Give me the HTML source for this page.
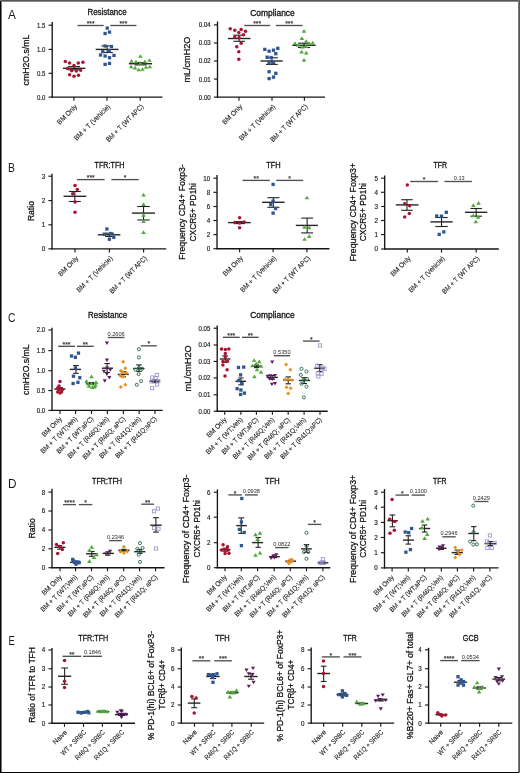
<!DOCTYPE html>
<html><head><meta charset="utf-8"><title>Figure</title>
<style>
html,body{margin:0;padding:0;background:#fff;width:520px;height:773px;overflow:hidden;}
svg{display:block;}
text{font-family:"Liberation Sans", sans-serif;}
</style></head><body>
<svg width="520" height="773" viewBox="0 0 520 773" font-family='"Liberation Sans", sans-serif' style="will-change:transform">
<rect x="0" y="0" width="520" height="773" fill="#ffffff"/>
<text x="8" y="19.2" font-size="12.8" text-anchor="start" fill="#1a1a1a" textLength="7.83" lengthAdjust="spacingAndGlyphs">A</text>
<text x="8" y="171.7" font-size="12.8" text-anchor="start" fill="#1a1a1a" textLength="6.94" lengthAdjust="spacingAndGlyphs">B</text>
<text x="8" y="321.7" font-size="12.8" text-anchor="start" fill="#1a1a1a" textLength="7.42" lengthAdjust="spacingAndGlyphs">C</text>
<text x="8" y="488.4" font-size="12.8" text-anchor="start" fill="#1a1a1a" textLength="8.52" lengthAdjust="spacingAndGlyphs">D</text>
<text x="8.6" y="645.3" font-size="12.8" text-anchor="start" fill="#1a1a1a" textLength="6.3" lengthAdjust="spacingAndGlyphs">E</text>
<line x1="52.2" y1="22" x2="52.2" y2="97.75" stroke="#151515" stroke-width="1.35"/>
<line x1="51.55" y1="97.1" x2="162.5" y2="97.1" stroke="#151515" stroke-width="1.35"/>
<line x1="48.6" y1="25.2" x2="52.2" y2="25.2" stroke="#1a1a1a" stroke-width="1.15"/>
<text x="45.4" y="27.6" font-size="6.6" text-anchor="end" fill="#1a1a1a" stroke="#1a1a1a" stroke-width="0.16" textLength="8.38" lengthAdjust="spacingAndGlyphs">1.5</text>
<line x1="48.6" y1="49.4" x2="52.2" y2="49.4" stroke="#1a1a1a" stroke-width="1.15"/>
<text x="45.4" y="51.8" font-size="6.6" text-anchor="end" fill="#1a1a1a" stroke="#1a1a1a" stroke-width="0.16" textLength="8.38" lengthAdjust="spacingAndGlyphs">1.0</text>
<line x1="48.6" y1="73.3" x2="52.2" y2="73.3" stroke="#1a1a1a" stroke-width="1.15"/>
<text x="45.4" y="75.7" font-size="6.6" text-anchor="end" fill="#1a1a1a" stroke="#1a1a1a" stroke-width="0.16" textLength="8.38" lengthAdjust="spacingAndGlyphs">0.5</text>
<line x1="48.6" y1="97.1" x2="52.2" y2="97.1" stroke="#1a1a1a" stroke-width="1.15"/>
<text x="45.4" y="99.5" font-size="6.6" text-anchor="end" fill="#1a1a1a" stroke="#1a1a1a" stroke-width="0.16" textLength="8.38" lengthAdjust="spacingAndGlyphs">0.0</text>
<line x1="73.9" y1="97.1" x2="73.9" y2="100.7" stroke="#1a1a1a" stroke-width="1.15"/>
<line x1="107" y1="97.1" x2="107" y2="100.7" stroke="#1a1a1a" stroke-width="1.15"/>
<line x1="140.2" y1="97.1" x2="140.2" y2="100.7" stroke="#1a1a1a" stroke-width="1.15"/>
<text x="107.05" y="15.3" font-size="8.63" text-anchor="middle" fill="#111" stroke="#111" stroke-width="0.3" textLength="39" lengthAdjust="spacingAndGlyphs">Resistance</text>
<text x="28.6" y="60" font-size="9.89" text-anchor="middle" fill="#111" stroke="#111" stroke-width="0.28" transform="rotate(-90 28.6 60)" textLength="50.8" lengthAdjust="spacingAndGlyphs">cmH2O.s/mL</text>
<text x="77.7" y="107.1" font-size="6.98" text-anchor="end" fill="#1a1a1a" stroke="#1a1a1a" stroke-width="0.1" transform="rotate(-45 77.7 107.1)" textLength="25.26" lengthAdjust="spacingAndGlyphs">BM Only</text>
<text x="110.8" y="107.1" font-size="6.98" text-anchor="end" fill="#1a1a1a" stroke="#1a1a1a" stroke-width="0.1" transform="rotate(-45 110.8 107.1)" textLength="48.07" lengthAdjust="spacingAndGlyphs">BM + T (Vehicle)</text>
<text x="144" y="107.1" font-size="6.98" text-anchor="end" fill="#1a1a1a" stroke="#1a1a1a" stroke-width="0.1" transform="rotate(-45 144 107.1)" textLength="49.84" lengthAdjust="spacingAndGlyphs">BM + T (WT APC)</text>
<line x1="77.5" y1="25.5" x2="103.7" y2="25.5" stroke="#505050" stroke-width="1.35"/>
<text x="90.6" y="26.1" font-size="6.8" text-anchor="middle" fill="#222" stroke="#222" stroke-width="0.1">***</text>
<line x1="110.3" y1="25.5" x2="136.4" y2="25.5" stroke="#505050" stroke-width="1.35"/>
<text x="123.35" y="26.1" font-size="6.8" text-anchor="middle" fill="#222" stroke="#222" stroke-width="0.1">***</text>
<line x1="74" y1="66.6" x2="74" y2="69.8" stroke="#222" stroke-width="1.1"/>
<line x1="68" y1="66.6" x2="80" y2="66.6" stroke="#222" stroke-width="1.1"/>
<line x1="68" y1="69.8" x2="80" y2="69.8" stroke="#222" stroke-width="1.1"/>
<line x1="62.8" y1="68.3" x2="85.4" y2="68.3" stroke="#262626" stroke-width="1.4"/>
<circle cx="65.3" cy="61.4" r="1.75" fill="#a8142f"/>
<circle cx="69.6" cy="63" r="1.75" fill="#a8142f"/>
<circle cx="74" cy="65.4" r="1.75" fill="#a8142f"/>
<circle cx="78.3" cy="62.9" r="1.75" fill="#a8142f"/>
<circle cx="82.9" cy="62.3" r="1.75" fill="#a8142f"/>
<circle cx="67.4" cy="68.5" r="1.75" fill="#a8142f"/>
<circle cx="71.7" cy="70.8" r="1.75" fill="#a8142f"/>
<circle cx="76.3" cy="71.1" r="1.75" fill="#a8142f"/>
<circle cx="80.6" cy="70.3" r="1.75" fill="#a8142f"/>
<circle cx="69.6" cy="74.8" r="1.75" fill="#a8142f"/>
<circle cx="74" cy="76.2" r="1.75" fill="#a8142f"/>
<circle cx="78.5" cy="75.2" r="1.75" fill="#a8142f"/>
<line x1="107.15" y1="45.9" x2="107.15" y2="52.5" stroke="#222" stroke-width="1.1"/>
<line x1="101.4" y1="45.9" x2="112.9" y2="45.9" stroke="#222" stroke-width="1.1"/>
<line x1="101.4" y1="52.5" x2="112.9" y2="52.5" stroke="#222" stroke-width="1.1"/>
<line x1="95.7" y1="49.4" x2="118.5" y2="49.4" stroke="#262626" stroke-width="1.4"/>
<rect x="105.55" y="26.45" width="3.3" height="3.3" fill="#2f5690"/>
<rect x="103.45" y="31.85" width="3.3" height="3.3" fill="#2f5690"/>
<rect x="107.85" y="30.45" width="3.3" height="3.3" fill="#2f5690"/>
<rect x="103.45" y="44.35" width="3.3" height="3.3" fill="#2f5690"/>
<rect x="109.85" y="44.85" width="3.3" height="3.3" fill="#2f5690"/>
<rect x="107.55" y="49.05" width="3.3" height="3.3" fill="#2f5690"/>
<rect x="101.15" y="49.95" width="3.3" height="3.3" fill="#2f5690"/>
<rect x="98.85" y="53.35" width="3.3" height="3.3" fill="#2f5690"/>
<rect x="103.45" y="54.35" width="3.3" height="3.3" fill="#2f5690"/>
<rect x="107.85" y="56.05" width="3.3" height="3.3" fill="#2f5690"/>
<rect x="112.35" y="53.75" width="3.3" height="3.3" fill="#2f5690"/>
<rect x="103.45" y="62.75" width="3.3" height="3.3" fill="#2f5690"/>
<rect x="107.85" y="61.75" width="3.3" height="3.3" fill="#2f5690"/>
<line x1="140.5" y1="62.6" x2="140.5" y2="64.9" stroke="#222" stroke-width="1.1"/>
<line x1="134.5" y1="62.6" x2="146.5" y2="62.6" stroke="#222" stroke-width="1.1"/>
<line x1="134.5" y1="64.9" x2="146.5" y2="64.9" stroke="#222" stroke-width="1.1"/>
<line x1="128.9" y1="63.7" x2="152" y2="63.7" stroke="#262626" stroke-width="1.4"/>
<path d="M140.4 54.15L142.7 57.84L138.1 57.84Z" fill="#52a83c"/>
<path d="M131.5 58.95L133.8 62.64L129.2 62.64Z" fill="#52a83c"/>
<path d="M136 59.65L138.3 63.34L133.7 63.34Z" fill="#52a83c"/>
<path d="M140.4 61.15L142.7 64.84L138.1 64.84Z" fill="#52a83c"/>
<path d="M144.8 59.45L147.1 63.14L142.5 63.14Z" fill="#52a83c"/>
<path d="M149.4 58.15L151.7 61.84L147.1 61.84Z" fill="#52a83c"/>
<path d="M131.1 64.65L133.4 68.34L128.8 68.34Z" fill="#52a83c"/>
<path d="M135 65.85L137.3 69.54L132.7 69.54Z" fill="#52a83c"/>
<path d="M138.7 67.65L141 71.34L136.4 71.34Z" fill="#52a83c"/>
<path d="M142.5 67.15L144.8 70.84L140.2 70.84Z" fill="#52a83c"/>
<path d="M146 65.15L148.3 68.84L143.7 68.84Z" fill="#52a83c"/>
<path d="M149.8 64.65L152.1 68.34L147.5 68.34Z" fill="#52a83c"/>
<line x1="217.5" y1="21.5" x2="217.5" y2="97.75" stroke="#151515" stroke-width="1.35"/>
<line x1="216.85" y1="97.1" x2="325" y2="97.1" stroke="#151515" stroke-width="1.35"/>
<line x1="213.9" y1="24.9" x2="217.5" y2="24.9" stroke="#1a1a1a" stroke-width="1.15"/>
<text x="210.7" y="27.3" font-size="6.6" text-anchor="end" fill="#1a1a1a" stroke="#1a1a1a" stroke-width="0.16" textLength="11.87" lengthAdjust="spacingAndGlyphs">0.04</text>
<line x1="213.9" y1="43" x2="217.5" y2="43" stroke="#1a1a1a" stroke-width="1.15"/>
<text x="210.7" y="45.4" font-size="6.6" text-anchor="end" fill="#1a1a1a" stroke="#1a1a1a" stroke-width="0.16" textLength="11.87" lengthAdjust="spacingAndGlyphs">0.03</text>
<line x1="213.9" y1="61" x2="217.5" y2="61" stroke="#1a1a1a" stroke-width="1.15"/>
<text x="210.7" y="63.4" font-size="6.6" text-anchor="end" fill="#1a1a1a" stroke="#1a1a1a" stroke-width="0.16" textLength="11.87" lengthAdjust="spacingAndGlyphs">0.02</text>
<line x1="213.9" y1="79.1" x2="217.5" y2="79.1" stroke="#1a1a1a" stroke-width="1.15"/>
<text x="210.7" y="81.5" font-size="6.6" text-anchor="end" fill="#1a1a1a" stroke="#1a1a1a" stroke-width="0.16" textLength="11.87" lengthAdjust="spacingAndGlyphs">0.01</text>
<line x1="213.9" y1="97.1" x2="217.5" y2="97.1" stroke="#1a1a1a" stroke-width="1.15"/>
<text x="210.7" y="99.5" font-size="6.6" text-anchor="end" fill="#1a1a1a" stroke="#1a1a1a" stroke-width="0.16" textLength="11.87" lengthAdjust="spacingAndGlyphs">0.00</text>
<line x1="239" y1="97.1" x2="239" y2="100.7" stroke="#1a1a1a" stroke-width="1.15"/>
<line x1="272" y1="97.1" x2="272" y2="100.7" stroke="#1a1a1a" stroke-width="1.15"/>
<line x1="304.4" y1="97.1" x2="304.4" y2="100.7" stroke="#1a1a1a" stroke-width="1.15"/>
<text x="272.5" y="15.5" font-size="8.63" text-anchor="middle" fill="#111" stroke="#111" stroke-width="0.3" textLength="44.39" lengthAdjust="spacingAndGlyphs">Compliance</text>
<text x="190.1" y="59.6" font-size="9.89" text-anchor="middle" fill="#111" stroke="#111" stroke-width="0.28" transform="rotate(-90 190.1 59.6)" textLength="46" lengthAdjust="spacingAndGlyphs">mL/cmH2O</text>
<text x="242.8" y="107.1" font-size="6.98" text-anchor="end" fill="#1a1a1a" stroke="#1a1a1a" stroke-width="0.1" transform="rotate(-45 242.8 107.1)" textLength="25.26" lengthAdjust="spacingAndGlyphs">BM Only</text>
<text x="275.8" y="107.1" font-size="6.98" text-anchor="end" fill="#1a1a1a" stroke="#1a1a1a" stroke-width="0.1" transform="rotate(-45 275.8 107.1)" textLength="48.07" lengthAdjust="spacingAndGlyphs">BM + T (Vehicle)</text>
<text x="308.2" y="107.1" font-size="6.98" text-anchor="end" fill="#1a1a1a" stroke="#1a1a1a" stroke-width="0.1" transform="rotate(-45 308.2 107.1)" textLength="49.84" lengthAdjust="spacingAndGlyphs">BM + T (WT APC)</text>
<line x1="244.2" y1="25.5" x2="270.2" y2="25.5" stroke="#505050" stroke-width="1.35"/>
<text x="257.2" y="26.1" font-size="6.8" text-anchor="middle" fill="#222" stroke="#222" stroke-width="0.1">***</text>
<line x1="275.8" y1="25.5" x2="302.6" y2="25.5" stroke="#505050" stroke-width="1.35"/>
<text x="289.2" y="26.1" font-size="6.8" text-anchor="middle" fill="#222" stroke="#222" stroke-width="0.1">***</text>
<line x1="239.05" y1="35.2" x2="239.05" y2="41.3" stroke="#222" stroke-width="1.1"/>
<line x1="233.3" y1="35.2" x2="244.8" y2="35.2" stroke="#222" stroke-width="1.1"/>
<line x1="233.3" y1="41.3" x2="244.8" y2="41.3" stroke="#222" stroke-width="1.1"/>
<line x1="227.9" y1="38.5" x2="250.4" y2="38.5" stroke="#262626" stroke-width="1.4"/>
<circle cx="230.2" cy="28.7" r="1.75" fill="#a8142f"/>
<circle cx="234.8" cy="30.2" r="1.75" fill="#a8142f"/>
<circle cx="241.2" cy="29.5" r="1.75" fill="#a8142f"/>
<circle cx="245.5" cy="31.2" r="1.75" fill="#a8142f"/>
<circle cx="238.8" cy="32.5" r="1.75" fill="#a8142f"/>
<circle cx="243.5" cy="34.7" r="1.75" fill="#a8142f"/>
<circle cx="234.8" cy="37.1" r="1.75" fill="#a8142f"/>
<circle cx="239.1" cy="37.7" r="1.75" fill="#a8142f"/>
<circle cx="241.2" cy="43.3" r="1.75" fill="#a8142f"/>
<circle cx="236.8" cy="46.8" r="1.75" fill="#a8142f"/>
<circle cx="238.8" cy="51.7" r="1.75" fill="#a8142f"/>
<circle cx="238.8" cy="59.2" r="1.75" fill="#a8142f"/>
<line x1="271.9" y1="57.8" x2="271.9" y2="64.4" stroke="#222" stroke-width="1.1"/>
<line x1="266" y1="57.8" x2="277.8" y2="57.8" stroke="#222" stroke-width="1.1"/>
<line x1="266" y1="64.4" x2="277.8" y2="64.4" stroke="#222" stroke-width="1.1"/>
<line x1="260.5" y1="61" x2="282.7" y2="61" stroke="#262626" stroke-width="1.4"/>
<rect x="263.15" y="47.75" width="3.3" height="3.3" fill="#2f5690"/>
<rect x="267.45" y="49.55" width="3.3" height="3.3" fill="#2f5690"/>
<rect x="271.85" y="48.55" width="3.3" height="3.3" fill="#2f5690"/>
<rect x="276.15" y="46.65" width="3.3" height="3.3" fill="#2f5690"/>
<rect x="274.15" y="52.05" width="3.3" height="3.3" fill="#2f5690"/>
<rect x="265.45" y="55.55" width="3.3" height="3.3" fill="#2f5690"/>
<rect x="269.55" y="55.85" width="3.3" height="3.3" fill="#2f5690"/>
<rect x="267.45" y="61.05" width="3.3" height="3.3" fill="#2f5690"/>
<rect x="271.85" y="61.05" width="3.3" height="3.3" fill="#2f5690"/>
<rect x="267.45" y="70.05" width="3.3" height="3.3" fill="#2f5690"/>
<rect x="274.15" y="71.65" width="3.3" height="3.3" fill="#2f5690"/>
<rect x="271.85" y="75.45" width="3.3" height="3.3" fill="#2f5690"/>
<rect x="267.45" y="76.95" width="3.3" height="3.3" fill="#2f5690"/>
<line x1="304.05" y1="43.2" x2="304.05" y2="47.5" stroke="#222" stroke-width="1.1"/>
<line x1="298" y1="43.2" x2="310.1" y2="43.2" stroke="#222" stroke-width="1.1"/>
<line x1="298" y1="47.5" x2="310.1" y2="47.5" stroke="#222" stroke-width="1.1"/>
<line x1="292.4" y1="45.3" x2="315.7" y2="45.3" stroke="#262626" stroke-width="1.4"/>
<path d="M304 29.05L306.3 32.74L301.7 32.74Z" fill="#52a83c"/>
<path d="M301.9 36.25L304.2 39.94L299.6 39.94Z" fill="#52a83c"/>
<path d="M306.2 39.15L308.5 42.84L303.9 42.84Z" fill="#52a83c"/>
<path d="M295 41.35L297.3 45.04L292.7 45.04Z" fill="#52a83c"/>
<path d="M298.4 43.05L300.7 46.74L296.1 46.74Z" fill="#52a83c"/>
<path d="M309.2 41.45L311.5 45.14L306.9 45.14Z" fill="#52a83c"/>
<path d="M312.7 40.85L315 44.54L310.4 44.54Z" fill="#52a83c"/>
<path d="M302.3 44.75L304.6 48.44L300 48.44Z" fill="#52a83c"/>
<path d="M305.8 44.35L308.1 48.04L303.5 48.04Z" fill="#52a83c"/>
<path d="M301.6 49.75L303.9 53.44L299.3 53.44Z" fill="#52a83c"/>
<path d="M306.2 50.85L308.5 54.54L303.9 54.54Z" fill="#52a83c"/>
<path d="M304 57.95L306.3 61.64L301.7 61.64Z" fill="#52a83c"/>
<line x1="52" y1="173.7" x2="52" y2="249.45" stroke="#151515" stroke-width="1.35"/>
<line x1="51.35" y1="248.8" x2="166.2" y2="248.8" stroke="#151515" stroke-width="1.35"/>
<line x1="48.4" y1="176.2" x2="52" y2="176.2" stroke="#1a1a1a" stroke-width="1.15"/>
<text x="45.2" y="178.6" font-size="6.6" text-anchor="end" fill="#1a1a1a" stroke="#1a1a1a" stroke-width="0.16" textLength="3.49" lengthAdjust="spacingAndGlyphs">3</text>
<line x1="48.4" y1="200.6" x2="52" y2="200.6" stroke="#1a1a1a" stroke-width="1.15"/>
<text x="45.2" y="203" font-size="6.6" text-anchor="end" fill="#1a1a1a" stroke="#1a1a1a" stroke-width="0.16" textLength="3.49" lengthAdjust="spacingAndGlyphs">2</text>
<line x1="48.4" y1="224.8" x2="52" y2="224.8" stroke="#1a1a1a" stroke-width="1.15"/>
<text x="45.2" y="227.2" font-size="6.6" text-anchor="end" fill="#1a1a1a" stroke="#1a1a1a" stroke-width="0.16" textLength="3.49" lengthAdjust="spacingAndGlyphs">1</text>
<line x1="48.4" y1="248.8" x2="52" y2="248.8" stroke="#1a1a1a" stroke-width="1.15"/>
<text x="45.2" y="251.2" font-size="6.6" text-anchor="end" fill="#1a1a1a" stroke="#1a1a1a" stroke-width="0.16" textLength="3.49" lengthAdjust="spacingAndGlyphs">0</text>
<line x1="75" y1="248.8" x2="75" y2="252.4" stroke="#1a1a1a" stroke-width="1.15"/>
<line x1="109.4" y1="248.8" x2="109.4" y2="252.4" stroke="#1a1a1a" stroke-width="1.15"/>
<line x1="143.6" y1="248.8" x2="143.6" y2="252.4" stroke="#1a1a1a" stroke-width="1.15"/>
<text x="109.5" y="167.8" font-size="8.63" text-anchor="middle" fill="#111" stroke="#111" stroke-width="0.3" textLength="29.95" lengthAdjust="spacingAndGlyphs">TFR:TFH</text>
<text x="34.5" y="211.1" font-size="9.89" text-anchor="middle" fill="#111" stroke="#111" stroke-width="0.28" transform="rotate(-90 34.5 211.1)" textLength="20" lengthAdjust="spacingAndGlyphs">Ratio</text>
<text x="78.8" y="258.8" font-size="6.98" text-anchor="end" fill="#1a1a1a" stroke="#1a1a1a" stroke-width="0.1" transform="rotate(-45 78.8 258.8)" textLength="25.26" lengthAdjust="spacingAndGlyphs">BM Only</text>
<text x="113.2" y="258.8" font-size="6.98" text-anchor="end" fill="#1a1a1a" stroke="#1a1a1a" stroke-width="0.1" transform="rotate(-45 113.2 258.8)" textLength="48.07" lengthAdjust="spacingAndGlyphs">BM + T (Vehicle)</text>
<text x="147.4" y="258.8" font-size="6.98" text-anchor="end" fill="#1a1a1a" stroke="#1a1a1a" stroke-width="0.1" transform="rotate(-45 147.4 258.8)" textLength="49.84" lengthAdjust="spacingAndGlyphs">BM + T (WT APC)</text>
<line x1="77" y1="179.6" x2="104.6" y2="179.6" stroke="#505050" stroke-width="1.35"/>
<text x="90.8" y="180.2" font-size="6.8" text-anchor="middle" fill="#222" stroke="#222" stroke-width="0.1">***</text>
<line x1="111.3" y1="179.6" x2="138.7" y2="179.6" stroke="#505050" stroke-width="1.35"/>
<text x="125" y="180.2" font-size="6.8" text-anchor="middle" fill="#222" stroke="#222" stroke-width="0.1">*</text>
<line x1="74.8" y1="191.5" x2="74.8" y2="201.5" stroke="#222" stroke-width="1.1"/>
<line x1="68.8" y1="191.5" x2="80.8" y2="191.5" stroke="#222" stroke-width="1.1"/>
<line x1="68.8" y1="201.5" x2="80.8" y2="201.5" stroke="#222" stroke-width="1.1"/>
<line x1="63.5" y1="196.3" x2="86.2" y2="196.3" stroke="#262626" stroke-width="1.4"/>
<circle cx="75" cy="185.4" r="1.75" fill="#a8142f"/>
<circle cx="77.3" cy="189.6" r="1.75" fill="#a8142f"/>
<circle cx="72.7" cy="193.8" r="1.75" fill="#a8142f"/>
<circle cx="75" cy="202.1" r="1.75" fill="#a8142f"/>
<circle cx="75" cy="212.3" r="1.75" fill="#a8142f"/>
<line x1="109.5" y1="233.2" x2="109.5" y2="236.4" stroke="#222" stroke-width="1.1"/>
<line x1="105" y1="233.2" x2="114" y2="233.2" stroke="#222" stroke-width="1.1"/>
<line x1="105" y1="236.4" x2="114" y2="236.4" stroke="#222" stroke-width="1.1"/>
<line x1="97.9" y1="234.8" x2="120.4" y2="234.8" stroke="#262626" stroke-width="1.4"/>
<rect x="105.25" y="227.35" width="3.3" height="3.3" fill="#2f5690"/>
<rect x="102.55" y="232.55" width="3.3" height="3.3" fill="#2f5690"/>
<rect x="109.15" y="231.85" width="3.3" height="3.3" fill="#2f5690"/>
<rect x="112.15" y="235.65" width="3.3" height="3.3" fill="#2f5690"/>
<rect x="107.75" y="237.55" width="3.3" height="3.3" fill="#2f5690"/>
<line x1="143.55" y1="206.5" x2="143.55" y2="220" stroke="#222" stroke-width="1.1"/>
<line x1="137.3" y1="206.5" x2="149.8" y2="206.5" stroke="#222" stroke-width="1.1"/>
<line x1="137.3" y1="220" x2="149.8" y2="220" stroke="#222" stroke-width="1.1"/>
<line x1="131.9" y1="213.1" x2="155" y2="213.1" stroke="#262626" stroke-width="1.4"/>
<path d="M143.5 192.75L145.8 196.44L141.2 196.44Z" fill="#52a83c"/>
<path d="M143.5 202.35L145.8 206.04L141.2 206.04Z" fill="#52a83c"/>
<path d="M143.5 212.95L145.8 216.64L141.2 216.64Z" fill="#52a83c"/>
<path d="M143.5 219.25L145.8 222.94L141.2 222.94Z" fill="#52a83c"/>
<path d="M143.5 230.25L145.8 233.94L141.2 233.94Z" fill="#52a83c"/>
<line x1="217" y1="175.1" x2="217" y2="249.35" stroke="#151515" stroke-width="1.35"/>
<line x1="216.35" y1="248.7" x2="329.4" y2="248.7" stroke="#151515" stroke-width="1.35"/>
<line x1="213.4" y1="178.2" x2="217" y2="178.2" stroke="#1a1a1a" stroke-width="1.15"/>
<text x="210.2" y="180.6" font-size="6.6" text-anchor="end" fill="#1a1a1a" stroke="#1a1a1a" stroke-width="0.16" textLength="6.98" lengthAdjust="spacingAndGlyphs">10</text>
<line x1="213.4" y1="192.3" x2="217" y2="192.3" stroke="#1a1a1a" stroke-width="1.15"/>
<text x="210.2" y="194.7" font-size="6.6" text-anchor="end" fill="#1a1a1a" stroke="#1a1a1a" stroke-width="0.16" textLength="3.49" lengthAdjust="spacingAndGlyphs">8</text>
<line x1="213.4" y1="206.5" x2="217" y2="206.5" stroke="#1a1a1a" stroke-width="1.15"/>
<text x="210.2" y="208.9" font-size="6.6" text-anchor="end" fill="#1a1a1a" stroke="#1a1a1a" stroke-width="0.16" textLength="3.49" lengthAdjust="spacingAndGlyphs">6</text>
<line x1="213.4" y1="220.5" x2="217" y2="220.5" stroke="#1a1a1a" stroke-width="1.15"/>
<text x="210.2" y="222.9" font-size="6.6" text-anchor="end" fill="#1a1a1a" stroke="#1a1a1a" stroke-width="0.16" textLength="3.49" lengthAdjust="spacingAndGlyphs">4</text>
<line x1="213.4" y1="234.6" x2="217" y2="234.6" stroke="#1a1a1a" stroke-width="1.15"/>
<text x="210.2" y="237" font-size="6.6" text-anchor="end" fill="#1a1a1a" stroke="#1a1a1a" stroke-width="0.16" textLength="3.49" lengthAdjust="spacingAndGlyphs">2</text>
<line x1="213.4" y1="248.7" x2="217" y2="248.7" stroke="#1a1a1a" stroke-width="1.15"/>
<text x="210.2" y="251.1" font-size="6.6" text-anchor="end" fill="#1a1a1a" stroke="#1a1a1a" stroke-width="0.16" textLength="3.49" lengthAdjust="spacingAndGlyphs">0</text>
<line x1="239.6" y1="248.7" x2="239.6" y2="252.3" stroke="#1a1a1a" stroke-width="1.15"/>
<line x1="273.1" y1="248.7" x2="273.1" y2="252.3" stroke="#1a1a1a" stroke-width="1.15"/>
<line x1="306.9" y1="248.7" x2="306.9" y2="252.3" stroke="#1a1a1a" stroke-width="1.15"/>
<text x="273.5" y="167.8" font-size="8.63" text-anchor="middle" fill="#111" stroke="#111" stroke-width="0.3" textLength="14.56" lengthAdjust="spacingAndGlyphs">TFH</text>
<text x="185.1" y="212" font-size="9.89" text-anchor="middle" fill="#111" stroke="#111" stroke-width="0.28" transform="rotate(-90 185.1 212)" textLength="95.5" lengthAdjust="spacingAndGlyphs">Frequency CD4+ Foxp3-</text>
<text x="196" y="212.3" font-size="9.89" text-anchor="middle" fill="#111" stroke="#111" stroke-width="0.28" transform="rotate(-90 196 212.3)" textLength="58.2" lengthAdjust="spacingAndGlyphs">CXCR5+ PD1hi</text>
<text x="243.4" y="258.7" font-size="6.98" text-anchor="end" fill="#1a1a1a" stroke="#1a1a1a" stroke-width="0.1" transform="rotate(-45 243.4 258.7)" textLength="25.26" lengthAdjust="spacingAndGlyphs">BM Only</text>
<text x="276.9" y="258.7" font-size="6.98" text-anchor="end" fill="#1a1a1a" stroke="#1a1a1a" stroke-width="0.1" transform="rotate(-45 276.9 258.7)" textLength="48.07" lengthAdjust="spacingAndGlyphs">BM + T (Vehicle)</text>
<text x="310.7" y="258.7" font-size="6.98" text-anchor="end" fill="#1a1a1a" stroke="#1a1a1a" stroke-width="0.1" transform="rotate(-45 310.7 258.7)" textLength="49.84" lengthAdjust="spacingAndGlyphs">BM + T (WT APC)</text>
<line x1="242.5" y1="180.4" x2="269.8" y2="180.4" stroke="#505050" stroke-width="1.35"/>
<text x="256.15" y="181" font-size="6.8" text-anchor="middle" fill="#222" stroke="#222" stroke-width="0.1">**</text>
<line x1="276.2" y1="180.4" x2="303.1" y2="180.4" stroke="#505050" stroke-width="1.35"/>
<text x="289.65" y="181" font-size="6.8" text-anchor="middle" fill="#222" stroke="#222" stroke-width="0.1">*</text>
<line x1="239.5" y1="221.6" x2="239.5" y2="223.6" stroke="#222" stroke-width="1.1"/>
<line x1="234" y1="221.6" x2="245" y2="221.6" stroke="#222" stroke-width="1.1"/>
<line x1="234" y1="223.6" x2="245" y2="223.6" stroke="#222" stroke-width="1.1"/>
<line x1="228.1" y1="222.6" x2="250.7" y2="222.6" stroke="#262626" stroke-width="1.4"/>
<circle cx="239.6" cy="217.7" r="1.75" fill="#a8142f"/>
<circle cx="234.7" cy="222.6" r="1.75" fill="#a8142f"/>
<circle cx="239.6" cy="223.1" r="1.75" fill="#a8142f"/>
<circle cx="244.2" cy="222" r="1.75" fill="#a8142f"/>
<circle cx="239.6" cy="227.7" r="1.75" fill="#a8142f"/>
<line x1="273.35" y1="197.7" x2="273.35" y2="207.3" stroke="#222" stroke-width="1.1"/>
<line x1="267.3" y1="197.7" x2="279.4" y2="197.7" stroke="#222" stroke-width="1.1"/>
<line x1="267.3" y1="207.3" x2="279.4" y2="207.3" stroke="#222" stroke-width="1.1"/>
<line x1="262.1" y1="202.3" x2="284.6" y2="202.3" stroke="#262626" stroke-width="1.4"/>
<rect x="271.45" y="182.75" width="3.3" height="3.3" fill="#2f5690"/>
<rect x="271.45" y="199.55" width="3.3" height="3.3" fill="#2f5690"/>
<rect x="269.15" y="202.95" width="3.3" height="3.3" fill="#2f5690"/>
<rect x="273.95" y="206.85" width="3.3" height="3.3" fill="#2f5690"/>
<rect x="271.45" y="211.45" width="3.3" height="3.3" fill="#2f5690"/>
<line x1="307.15" y1="218.1" x2="307.15" y2="232.9" stroke="#222" stroke-width="1.1"/>
<line x1="301.2" y1="218.1" x2="313.1" y2="218.1" stroke="#222" stroke-width="1.1"/>
<line x1="301.2" y1="232.9" x2="313.1" y2="232.9" stroke="#222" stroke-width="1.1"/>
<line x1="295.8" y1="225.4" x2="317.9" y2="225.4" stroke="#262626" stroke-width="1.4"/>
<path d="M306.9 195.65L309.2 199.34L304.6 199.34Z" fill="#52a83c"/>
<path d="M304.4 225.05L306.7 228.74L302.1 228.74Z" fill="#52a83c"/>
<path d="M309.2 225.65L311.5 229.34L306.9 229.34Z" fill="#52a83c"/>
<path d="M309.2 234.25L311.5 237.94L306.9 237.94Z" fill="#52a83c"/>
<path d="M304.6 237.15L306.9 240.84L302.3 240.84Z" fill="#52a83c"/>
<line x1="384.7" y1="175.4" x2="384.7" y2="249.65" stroke="#151515" stroke-width="1.35"/>
<line x1="384.05" y1="249" x2="498.8" y2="249" stroke="#151515" stroke-width="1.35"/>
<line x1="381.1" y1="178.2" x2="384.7" y2="178.2" stroke="#1a1a1a" stroke-width="1.15"/>
<text x="377.9" y="180.6" font-size="6.6" text-anchor="end" fill="#1a1a1a" stroke="#1a1a1a" stroke-width="0.16" textLength="3.49" lengthAdjust="spacingAndGlyphs">5</text>
<line x1="381.1" y1="192.3" x2="384.7" y2="192.3" stroke="#1a1a1a" stroke-width="1.15"/>
<text x="377.9" y="194.7" font-size="6.6" text-anchor="end" fill="#1a1a1a" stroke="#1a1a1a" stroke-width="0.16" textLength="3.49" lengthAdjust="spacingAndGlyphs">4</text>
<line x1="381.1" y1="206.5" x2="384.7" y2="206.5" stroke="#1a1a1a" stroke-width="1.15"/>
<text x="377.9" y="208.9" font-size="6.6" text-anchor="end" fill="#1a1a1a" stroke="#1a1a1a" stroke-width="0.16" textLength="3.49" lengthAdjust="spacingAndGlyphs">3</text>
<line x1="381.1" y1="220.5" x2="384.7" y2="220.5" stroke="#1a1a1a" stroke-width="1.15"/>
<text x="377.9" y="222.9" font-size="6.6" text-anchor="end" fill="#1a1a1a" stroke="#1a1a1a" stroke-width="0.16" textLength="3.49" lengthAdjust="spacingAndGlyphs">2</text>
<line x1="381.1" y1="234.6" x2="384.7" y2="234.6" stroke="#1a1a1a" stroke-width="1.15"/>
<text x="377.9" y="237" font-size="6.6" text-anchor="end" fill="#1a1a1a" stroke="#1a1a1a" stroke-width="0.16" textLength="3.49" lengthAdjust="spacingAndGlyphs">1</text>
<line x1="381.1" y1="249" x2="384.7" y2="249" stroke="#1a1a1a" stroke-width="1.15"/>
<text x="377.9" y="251.4" font-size="6.6" text-anchor="end" fill="#1a1a1a" stroke="#1a1a1a" stroke-width="0.16" textLength="3.49" lengthAdjust="spacingAndGlyphs">0</text>
<line x1="407.3" y1="249" x2="407.3" y2="252.6" stroke="#1a1a1a" stroke-width="1.15"/>
<line x1="441.5" y1="249" x2="441.5" y2="252.6" stroke="#1a1a1a" stroke-width="1.15"/>
<line x1="476.2" y1="249" x2="476.2" y2="252.6" stroke="#1a1a1a" stroke-width="1.15"/>
<text x="440.3" y="167.8" font-size="8.63" text-anchor="middle" fill="#111" stroke="#111" stroke-width="0.3" textLength="13.55" lengthAdjust="spacingAndGlyphs">TFR</text>
<text x="355.7" y="212.2" font-size="9.89" text-anchor="middle" fill="#111" stroke="#111" stroke-width="0.28" transform="rotate(-90 355.7 212.2)" textLength="98.6" lengthAdjust="spacingAndGlyphs">Frequency CD4+ Foxp3+</text>
<text x="366.4" y="212.2" font-size="9.89" text-anchor="middle" fill="#111" stroke="#111" stroke-width="0.28" transform="rotate(-90 366.4 212.2)" textLength="58.2" lengthAdjust="spacingAndGlyphs">CXCR5+ PD1hi</text>
<text x="411.1" y="259" font-size="6.98" text-anchor="end" fill="#1a1a1a" stroke="#1a1a1a" stroke-width="0.1" transform="rotate(-45 411.1 259)" textLength="25.26" lengthAdjust="spacingAndGlyphs">BM Only</text>
<text x="445.3" y="259" font-size="6.98" text-anchor="end" fill="#1a1a1a" stroke="#1a1a1a" stroke-width="0.1" transform="rotate(-45 445.3 259)" textLength="48.07" lengthAdjust="spacingAndGlyphs">BM + T (Vehicle)</text>
<text x="480" y="259" font-size="6.98" text-anchor="end" fill="#1a1a1a" stroke="#1a1a1a" stroke-width="0.1" transform="rotate(-45 480 259)" textLength="49.84" lengthAdjust="spacingAndGlyphs">BM + T (WT APC)</text>
<line x1="410.2" y1="181.5" x2="438.1" y2="181.5" stroke="#505050" stroke-width="1.35"/>
<text x="424.15" y="182.1" font-size="6.8" text-anchor="middle" fill="#222" stroke="#222" stroke-width="0.1">*</text>
<line x1="444.4" y1="181.5" x2="471.9" y2="181.5" stroke="#505050" stroke-width="1.35"/>
<text x="459.2" y="179.5" font-size="6.01" text-anchor="middle" fill="#2a2a2a" textLength="10.83" lengthAdjust="spacingAndGlyphs">0.13</text>
<line x1="406.95" y1="199.7" x2="406.95" y2="210.3" stroke="#222" stroke-width="1.1"/>
<line x1="401.2" y1="199.7" x2="412.7" y2="199.7" stroke="#222" stroke-width="1.1"/>
<line x1="401.2" y1="210.3" x2="412.7" y2="210.3" stroke="#222" stroke-width="1.1"/>
<line x1="395.8" y1="204.9" x2="418.5" y2="204.9" stroke="#262626" stroke-width="1.4"/>
<circle cx="407.3" cy="185.1" r="1.75" fill="#a8142f"/>
<circle cx="404.7" cy="203.8" r="1.75" fill="#a8142f"/>
<circle cx="409.6" cy="205.8" r="1.75" fill="#a8142f"/>
<circle cx="409.3" cy="213.5" r="1.75" fill="#a8142f"/>
<circle cx="404.7" cy="216.9" r="1.75" fill="#a8142f"/>
<line x1="441.55" y1="217.5" x2="441.55" y2="226.5" stroke="#222" stroke-width="1.1"/>
<line x1="435.4" y1="217.5" x2="447.7" y2="217.5" stroke="#222" stroke-width="1.1"/>
<line x1="435.4" y1="226.5" x2="447.7" y2="226.5" stroke="#222" stroke-width="1.1"/>
<line x1="430.4" y1="221.9" x2="452.7" y2="221.9" stroke="#262626" stroke-width="1.4"/>
<rect x="444.65" y="210.65" width="3.3" height="3.3" fill="#2f5690"/>
<rect x="435.05" y="214.35" width="3.3" height="3.3" fill="#2f5690"/>
<rect x="439.85" y="214.55" width="3.3" height="3.3" fill="#2f5690"/>
<rect x="442.15" y="230.25" width="3.3" height="3.3" fill="#2f5690"/>
<rect x="437.55" y="232.75" width="3.3" height="3.3" fill="#2f5690"/>
<line x1="476.15" y1="208.5" x2="476.15" y2="216.2" stroke="#222" stroke-width="1.1"/>
<line x1="470.4" y1="208.5" x2="481.9" y2="208.5" stroke="#222" stroke-width="1.1"/>
<line x1="470.4" y1="216.2" x2="481.9" y2="216.2" stroke="#222" stroke-width="1.1"/>
<line x1="465" y1="212.3" x2="487.3" y2="212.3" stroke="#262626" stroke-width="1.4"/>
<path d="M473.3 203.35L475.6 207.04L471 207.04Z" fill="#52a83c"/>
<path d="M478.5 201.05L480.8 204.74L476.2 204.74Z" fill="#52a83c"/>
<path d="M473.3 213.55L475.6 217.24L471 217.24Z" fill="#52a83c"/>
<path d="M478.1 215.05L480.4 218.74L475.8 218.74Z" fill="#52a83c"/>
<path d="M475.8 219.65L478.1 223.34L473.5 223.34Z" fill="#52a83c"/>
<line x1="52" y1="327.7" x2="52" y2="411.05" stroke="#151515" stroke-width="1.35"/>
<line x1="51.35" y1="410.4" x2="162.7" y2="410.4" stroke="#151515" stroke-width="1.35"/>
<line x1="48.4" y1="330" x2="52" y2="330" stroke="#1a1a1a" stroke-width="1.15"/>
<text x="45.2" y="332.4" font-size="6.6" text-anchor="end" fill="#1a1a1a" stroke="#1a1a1a" stroke-width="0.16" textLength="8.38" lengthAdjust="spacingAndGlyphs">2.0</text>
<line x1="48.4" y1="350.6" x2="52" y2="350.6" stroke="#1a1a1a" stroke-width="1.15"/>
<text x="45.2" y="353" font-size="6.6" text-anchor="end" fill="#1a1a1a" stroke="#1a1a1a" stroke-width="0.16" textLength="8.38" lengthAdjust="spacingAndGlyphs">1.5</text>
<line x1="48.4" y1="370.7" x2="52" y2="370.7" stroke="#1a1a1a" stroke-width="1.15"/>
<text x="45.2" y="373.1" font-size="6.6" text-anchor="end" fill="#1a1a1a" stroke="#1a1a1a" stroke-width="0.16" textLength="8.38" lengthAdjust="spacingAndGlyphs">1.0</text>
<line x1="48.4" y1="390.6" x2="52" y2="390.6" stroke="#1a1a1a" stroke-width="1.15"/>
<text x="45.2" y="393" font-size="6.6" text-anchor="end" fill="#1a1a1a" stroke="#1a1a1a" stroke-width="0.16" textLength="8.38" lengthAdjust="spacingAndGlyphs">0.5</text>
<line x1="48.4" y1="410.4" x2="52" y2="410.4" stroke="#1a1a1a" stroke-width="1.15"/>
<text x="45.2" y="412.8" font-size="6.6" text-anchor="end" fill="#1a1a1a" stroke="#1a1a1a" stroke-width="0.16" textLength="8.38" lengthAdjust="spacingAndGlyphs">0.0</text>
<line x1="60" y1="410.4" x2="60" y2="414" stroke="#1a1a1a" stroke-width="1.15"/>
<line x1="75.6" y1="410.4" x2="75.6" y2="414" stroke="#1a1a1a" stroke-width="1.15"/>
<line x1="91.5" y1="410.4" x2="91.5" y2="414" stroke="#1a1a1a" stroke-width="1.15"/>
<line x1="107.3" y1="410.4" x2="107.3" y2="414" stroke="#1a1a1a" stroke-width="1.15"/>
<line x1="123.3" y1="410.4" x2="123.3" y2="414" stroke="#1a1a1a" stroke-width="1.15"/>
<line x1="139.1" y1="410.4" x2="139.1" y2="414" stroke="#1a1a1a" stroke-width="1.15"/>
<line x1="155" y1="410.4" x2="155" y2="414" stroke="#1a1a1a" stroke-width="1.15"/>
<text x="107.6" y="317.6" font-size="8.63" text-anchor="middle" fill="#111" stroke="#111" stroke-width="0.3" textLength="39" lengthAdjust="spacingAndGlyphs">Resistance</text>
<text x="29.5" y="369.7" font-size="9.89" text-anchor="middle" fill="#111" stroke="#111" stroke-width="0.28" transform="rotate(-90 29.5 369.7)" textLength="50.5" lengthAdjust="spacingAndGlyphs">cmH2O.s/mL</text>
<text x="62.3" y="419.4" font-size="6.98" text-anchor="end" fill="#1a1a1a" stroke="#1a1a1a" stroke-width="0.1" transform="rotate(-45 62.3 419.4)" textLength="25.26" lengthAdjust="spacingAndGlyphs">BM Only</text>
<text x="77.9" y="419.4" font-size="6.98" text-anchor="end" fill="#1a1a1a" stroke="#1a1a1a" stroke-width="0.1" transform="rotate(-45 77.9 419.4)" textLength="49.01" lengthAdjust="spacingAndGlyphs">BM + T (WT;Veh)</text>
<text x="93.8" y="419.4" font-size="6.98" text-anchor="end" fill="#1a1a1a" stroke="#1a1a1a" stroke-width="0.1" transform="rotate(-45 93.8 419.4)" textLength="48.87" lengthAdjust="spacingAndGlyphs">BM + T (WT;aPC)</text>
<text x="109.6" y="419.4" font-size="6.98" text-anchor="end" fill="#1a1a1a" stroke="#1a1a1a" stroke-width="0.1" transform="rotate(-45 109.6 419.4)" textLength="55.56" lengthAdjust="spacingAndGlyphs">BM + T (R46Q;Veh)</text>
<text x="125.6" y="419.4" font-size="6.98" text-anchor="end" fill="#1a1a1a" stroke="#1a1a1a" stroke-width="0.1" transform="rotate(-45 125.6 419.4)" textLength="56.94" lengthAdjust="spacingAndGlyphs">BM + T (R46Q; aPC)</text>
<text x="141.4" y="419.4" font-size="6.98" text-anchor="end" fill="#1a1a1a" stroke="#1a1a1a" stroke-width="0.1" transform="rotate(-45 141.4 419.4)" textLength="55.56" lengthAdjust="spacingAndGlyphs">BM + T (R41Q;Veh)</text>
<text x="157.3" y="419.4" font-size="6.98" text-anchor="end" fill="#1a1a1a" stroke="#1a1a1a" stroke-width="0.1" transform="rotate(-45 157.3 419.4)" textLength="55.42" lengthAdjust="spacingAndGlyphs">BM + T (R41Q;aPC)</text>
<line x1="58.1" y1="346.3" x2="75" y2="346.3" stroke="#505050" stroke-width="1.35"/>
<text x="66.55" y="346.9" font-size="6.8" text-anchor="middle" fill="#222" stroke="#222" stroke-width="0.1">***</text>
<line x1="76.9" y1="346.3" x2="93.8" y2="346.3" stroke="#505050" stroke-width="1.35"/>
<text x="85.35" y="346.9" font-size="6.8" text-anchor="middle" fill="#222" stroke="#222" stroke-width="0.1">**</text>
<line x1="107.8" y1="337.5" x2="124.5" y2="337.5" stroke="#505050" stroke-width="1.35"/>
<text x="116.15" y="335.5" font-size="6.01" text-anchor="middle" fill="#2a2a2a" textLength="17.19" lengthAdjust="spacingAndGlyphs">0.2606</text>
<line x1="140.8" y1="345.8" x2="156.8" y2="345.8" stroke="#505050" stroke-width="1.35"/>
<text x="148.8" y="346.4" font-size="6.8" text-anchor="middle" fill="#222" stroke="#222" stroke-width="0.1">*</text>
<line x1="60" y1="387.8" x2="60" y2="390.2" stroke="#222" stroke-width="1.1"/>
<line x1="57" y1="387.8" x2="63" y2="387.8" stroke="#222" stroke-width="1.1"/>
<line x1="57" y1="390.2" x2="63" y2="390.2" stroke="#222" stroke-width="1.1"/>
<line x1="54.2" y1="389" x2="65.4" y2="389" stroke="#262626" stroke-width="1.4"/>
<circle cx="60" cy="381.5" r="1.75" fill="#a8142f"/>
<circle cx="57.7" cy="388.1" r="1.75" fill="#a8142f"/>
<circle cx="61.2" cy="388.7" r="1.75" fill="#a8142f"/>
<circle cx="57.7" cy="391.9" r="1.75" fill="#a8142f"/>
<circle cx="60" cy="393.1" r="1.75" fill="#a8142f"/>
<circle cx="62.5" cy="389.6" r="1.75" fill="#a8142f"/>
<circle cx="59" cy="386" r="1.75" fill="#a8142f"/>
<circle cx="61.5" cy="392" r="1.75" fill="#a8142f"/>
<line x1="75.95" y1="365.6" x2="75.95" y2="373.3" stroke="#222" stroke-width="1.1"/>
<line x1="73.1" y1="365.6" x2="78.8" y2="365.6" stroke="#222" stroke-width="1.1"/>
<line x1="73.1" y1="373.3" x2="78.8" y2="373.3" stroke="#222" stroke-width="1.1"/>
<line x1="69.8" y1="369.4" x2="81" y2="369.4" stroke="#262626" stroke-width="1.4"/>
<rect x="69.85" y="354.35" width="3.3" height="3.3" fill="#2f5690"/>
<rect x="73.75" y="355.65" width="3.3" height="3.3" fill="#2f5690"/>
<rect x="76.85" y="351.45" width="3.3" height="3.3" fill="#2f5690"/>
<rect x="73.75" y="366.45" width="3.3" height="3.3" fill="#2f5690"/>
<rect x="71.85" y="374.55" width="3.3" height="3.3" fill="#2f5690"/>
<rect x="78.15" y="376.05" width="3.3" height="3.3" fill="#2f5690"/>
<rect x="71.45" y="381.85" width="3.3" height="3.3" fill="#2f5690"/>
<rect x="76.25" y="380.65" width="3.3" height="3.3" fill="#2f5690"/>
<line x1="91.5" y1="382.6" x2="91.5" y2="384.5" stroke="#222" stroke-width="1.1"/>
<line x1="89" y1="382.6" x2="94" y2="382.6" stroke="#222" stroke-width="1.1"/>
<line x1="89" y1="384.5" x2="94" y2="384.5" stroke="#222" stroke-width="1.1"/>
<line x1="85.8" y1="383.5" x2="97.7" y2="383.5" stroke="#262626" stroke-width="1.4"/>
<path d="M91.5 374.55L93.8 378.24L89.2 378.24Z" fill="#52a83c"/>
<path d="M86.5 379.15L88.8 382.84L84.2 382.84Z" fill="#52a83c"/>
<path d="M96 380.25L98.3 383.94L93.7 383.94Z" fill="#52a83c"/>
<path d="M89 383.95L91.3 387.64L86.7 387.64Z" fill="#52a83c"/>
<path d="M92.3 385.35L94.6 389.04L90 389.04Z" fill="#52a83c"/>
<path d="M94.5 384.75L96.8 388.44L92.2 388.44Z" fill="#52a83c"/>
<path d="M88 381.75L90.3 385.44L85.7 385.44Z" fill="#52a83c"/>
<path d="M95.5 382.95L97.8 386.64L93.2 386.64Z" fill="#52a83c"/>
<path d="M91.5 381.45L93.8 385.14L89.2 385.14Z" fill="#52a83c"/>
<line x1="107.15" y1="363.6" x2="107.15" y2="372.5" stroke="#222" stroke-width="1.1"/>
<line x1="104.4" y1="363.6" x2="109.9" y2="363.6" stroke="#222" stroke-width="1.1"/>
<line x1="104.4" y1="372.5" x2="109.9" y2="372.5" stroke="#222" stroke-width="1.1"/>
<line x1="101.9" y1="368.2" x2="113" y2="368.2" stroke="#262626" stroke-width="1.4"/>
<path d="M106.9 344.9L109 341.48L104.8 341.48Z" fill="#5c1f5e"/>
<path d="M106.9 361.9L109 358.48L104.8 358.48Z" fill="#5c1f5e"/>
<path d="M103.9 373.2L106 369.78L101.8 369.78Z" fill="#5c1f5e"/>
<path d="M110.3 371.7L112.4 368.28L108.2 368.28Z" fill="#5c1f5e"/>
<path d="M106.9 376L109 372.58L104.8 372.58Z" fill="#5c1f5e"/>
<path d="M109.3 379.4L111.4 375.98L107.2 375.98Z" fill="#5c1f5e"/>
<path d="M104.8 382.7L106.9 379.28L102.7 379.28Z" fill="#5c1f5e"/>
<path d="M106.9 369.9L109 366.48L104.8 366.48Z" fill="#5c1f5e"/>
<line x1="123.25" y1="371.7" x2="123.25" y2="376.8" stroke="#222" stroke-width="1.1"/>
<line x1="120.5" y1="371.7" x2="126" y2="371.7" stroke="#222" stroke-width="1.1"/>
<line x1="120.5" y1="376.8" x2="126" y2="376.8" stroke="#222" stroke-width="1.1"/>
<line x1="117.7" y1="374.4" x2="128.8" y2="374.4" stroke="#262626" stroke-width="1.4"/>
<path d="M123.2 359.8L125.2 361.8L123.2 363.8L121.2 361.8Z" fill="#e8901c"/>
<path d="M125.3 366.2L127.3 368.2L125.3 370.2L123.3 368.2Z" fill="#e8901c"/>
<path d="M120.8 368.7L122.8 370.7L120.8 372.7L118.8 370.7Z" fill="#e8901c"/>
<path d="M126.6 370.9L128.6 372.9L126.6 374.9L124.6 372.9Z" fill="#e8901c"/>
<path d="M123.2 370.5L125.2 372.5L123.2 374.5L121.2 372.5Z" fill="#e8901c"/>
<path d="M120.2 373.6L122.2 375.6L120.2 377.6L118.2 375.6Z" fill="#e8901c"/>
<path d="M123.2 374.8L125.2 376.8L123.2 378.8L121.2 376.8Z" fill="#e8901c"/>
<path d="M125.3 382.8L127.3 384.8L125.3 386.8L123.3 384.8Z" fill="#e8901c"/>
<path d="M120.8 384.9L122.8 386.9L120.8 388.9L118.8 386.9Z" fill="#e8901c"/>
<line x1="139" y1="364.9" x2="139" y2="371.3" stroke="#222" stroke-width="1.1"/>
<line x1="136.2" y1="364.9" x2="141.8" y2="364.9" stroke="#222" stroke-width="1.1"/>
<line x1="136.2" y1="371.3" x2="141.8" y2="371.3" stroke="#222" stroke-width="1.1"/>
<line x1="133.1" y1="368.5" x2="144.5" y2="368.5" stroke="#262626" stroke-width="1.4"/>
<circle cx="138.9" cy="349.2" r="1.55" fill="none" stroke="#2f6e4e" stroke-width="0.95"/>
<circle cx="138.9" cy="357.4" r="1.55" fill="none" stroke="#2f6e4e" stroke-width="0.95"/>
<circle cx="135.5" cy="369.7" r="1.55" fill="none" stroke="#2f6e4e" stroke-width="0.95"/>
<circle cx="142.1" cy="368.8" r="1.55" fill="none" stroke="#2f6e4e" stroke-width="0.95"/>
<circle cx="138.9" cy="368" r="1.55" fill="none" stroke="#2f6e4e" stroke-width="0.95"/>
<circle cx="138.6" cy="374.1" r="1.55" fill="none" stroke="#2f6e4e" stroke-width="0.95"/>
<circle cx="141.1" cy="381.2" r="1.55" fill="none" stroke="#2f6e4e" stroke-width="0.95"/>
<circle cx="136.8" cy="384.8" r="1.55" fill="none" stroke="#2f6e4e" stroke-width="0.95"/>
<line x1="155" y1="379.8" x2="155" y2="382.6" stroke="#222" stroke-width="1.1"/>
<line x1="152.5" y1="379.8" x2="157.5" y2="379.8" stroke="#222" stroke-width="1.1"/>
<line x1="152.5" y1="382.6" x2="157.5" y2="382.6" stroke="#222" stroke-width="1.1"/>
<line x1="149.4" y1="381.2" x2="159.8" y2="381.2" stroke="#262626" stroke-width="1.4"/>
<rect x="155.2" y="373.4" width="3.2" height="3.2" fill="none" stroke="#9b8fcf" stroke-width="0.85"/>
<rect x="150.6" y="375.9" width="3.2" height="3.2" fill="none" stroke="#9b8fcf" stroke-width="0.85"/>
<rect x="154" y="376.7" width="3.2" height="3.2" fill="none" stroke="#9b8fcf" stroke-width="0.85"/>
<rect x="156.7" y="379.6" width="3.2" height="3.2" fill="none" stroke="#9b8fcf" stroke-width="0.85"/>
<rect x="150.3" y="379.9" width="3.2" height="3.2" fill="none" stroke="#9b8fcf" stroke-width="0.85"/>
<rect x="155.5" y="382.9" width="3.2" height="3.2" fill="none" stroke="#9b8fcf" stroke-width="0.85"/>
<rect x="150.6" y="386.6" width="3.2" height="3.2" fill="none" stroke="#9b8fcf" stroke-width="0.85"/>
<line x1="217.2" y1="325.6" x2="217.2" y2="411.85" stroke="#151515" stroke-width="1.35"/>
<line x1="216.55" y1="411.2" x2="327.7" y2="411.2" stroke="#151515" stroke-width="1.35"/>
<line x1="213.6" y1="328.2" x2="217.2" y2="328.2" stroke="#1a1a1a" stroke-width="1.15"/>
<text x="210.4" y="330.6" font-size="6.6" text-anchor="end" fill="#1a1a1a" stroke="#1a1a1a" stroke-width="0.16" textLength="11.87" lengthAdjust="spacingAndGlyphs">0.05</text>
<line x1="213.6" y1="345" x2="217.2" y2="345" stroke="#1a1a1a" stroke-width="1.15"/>
<text x="210.4" y="347.4" font-size="6.6" text-anchor="end" fill="#1a1a1a" stroke="#1a1a1a" stroke-width="0.16" textLength="11.87" lengthAdjust="spacingAndGlyphs">0.04</text>
<line x1="213.6" y1="361.4" x2="217.2" y2="361.4" stroke="#1a1a1a" stroke-width="1.15"/>
<text x="210.4" y="363.8" font-size="6.6" text-anchor="end" fill="#1a1a1a" stroke="#1a1a1a" stroke-width="0.16" textLength="11.87" lengthAdjust="spacingAndGlyphs">0.03</text>
<line x1="213.6" y1="378" x2="217.2" y2="378" stroke="#1a1a1a" stroke-width="1.15"/>
<text x="210.4" y="380.4" font-size="6.6" text-anchor="end" fill="#1a1a1a" stroke="#1a1a1a" stroke-width="0.16" textLength="11.87" lengthAdjust="spacingAndGlyphs">0.02</text>
<line x1="213.6" y1="394.8" x2="217.2" y2="394.8" stroke="#1a1a1a" stroke-width="1.15"/>
<text x="210.4" y="397.2" font-size="6.6" text-anchor="end" fill="#1a1a1a" stroke="#1a1a1a" stroke-width="0.16" textLength="11.87" lengthAdjust="spacingAndGlyphs">0.01</text>
<line x1="213.6" y1="411.2" x2="217.2" y2="411.2" stroke="#1a1a1a" stroke-width="1.15"/>
<text x="210.4" y="413.6" font-size="6.6" text-anchor="end" fill="#1a1a1a" stroke="#1a1a1a" stroke-width="0.16" textLength="11.87" lengthAdjust="spacingAndGlyphs">0.00</text>
<line x1="224.7" y1="411.2" x2="224.7" y2="414.8" stroke="#1a1a1a" stroke-width="1.15"/>
<line x1="240.9" y1="411.2" x2="240.9" y2="414.8" stroke="#1a1a1a" stroke-width="1.15"/>
<line x1="256.4" y1="411.2" x2="256.4" y2="414.8" stroke="#1a1a1a" stroke-width="1.15"/>
<line x1="272.4" y1="411.2" x2="272.4" y2="414.8" stroke="#1a1a1a" stroke-width="1.15"/>
<line x1="288.2" y1="411.2" x2="288.2" y2="414.8" stroke="#1a1a1a" stroke-width="1.15"/>
<line x1="304.1" y1="411.2" x2="304.1" y2="414.8" stroke="#1a1a1a" stroke-width="1.15"/>
<line x1="320" y1="411.2" x2="320" y2="414.8" stroke="#1a1a1a" stroke-width="1.15"/>
<text x="272.5" y="317.8" font-size="8.63" text-anchor="middle" fill="#111" stroke="#111" stroke-width="0.3" textLength="44.39" lengthAdjust="spacingAndGlyphs">Compliance</text>
<text x="190.9" y="368.4" font-size="9.89" text-anchor="middle" fill="#111" stroke="#111" stroke-width="0.28" transform="rotate(-90 190.9 368.4)" textLength="46" lengthAdjust="spacingAndGlyphs">mL/cmH2O</text>
<text x="227" y="420.2" font-size="6.98" text-anchor="end" fill="#1a1a1a" stroke="#1a1a1a" stroke-width="0.1" transform="rotate(-45 227 420.2)" textLength="25.26" lengthAdjust="spacingAndGlyphs">BM Only</text>
<text x="243.2" y="420.2" font-size="6.98" text-anchor="end" fill="#1a1a1a" stroke="#1a1a1a" stroke-width="0.1" transform="rotate(-45 243.2 420.2)" textLength="49.01" lengthAdjust="spacingAndGlyphs">BM + T (WT;Veh)</text>
<text x="258.7" y="420.2" font-size="6.98" text-anchor="end" fill="#1a1a1a" stroke="#1a1a1a" stroke-width="0.1" transform="rotate(-45 258.7 420.2)" textLength="48.87" lengthAdjust="spacingAndGlyphs">BM + T (WT;aPC)</text>
<text x="274.7" y="420.2" font-size="6.98" text-anchor="end" fill="#1a1a1a" stroke="#1a1a1a" stroke-width="0.1" transform="rotate(-45 274.7 420.2)" textLength="55.56" lengthAdjust="spacingAndGlyphs">BM + T (R46Q;Veh)</text>
<text x="290.5" y="420.2" font-size="6.98" text-anchor="end" fill="#1a1a1a" stroke="#1a1a1a" stroke-width="0.1" transform="rotate(-45 290.5 420.2)" textLength="56.94" lengthAdjust="spacingAndGlyphs">BM + T (R46Q; aPC)</text>
<text x="306.4" y="420.2" font-size="6.98" text-anchor="end" fill="#1a1a1a" stroke="#1a1a1a" stroke-width="0.1" transform="rotate(-45 306.4 420.2)" textLength="55.56" lengthAdjust="spacingAndGlyphs">BM + T (R41Q;Veh)</text>
<text x="322.3" y="420.2" font-size="6.98" text-anchor="end" fill="#1a1a1a" stroke="#1a1a1a" stroke-width="0.1" transform="rotate(-45 322.3 420.2)" textLength="55.42" lengthAdjust="spacingAndGlyphs">BM + T (R41Q;aPC)</text>
<line x1="222.9" y1="337.3" x2="239.7" y2="337.3" stroke="#505050" stroke-width="1.35"/>
<text x="231.3" y="337.9" font-size="6.8" text-anchor="middle" fill="#222" stroke="#222" stroke-width="0.1">***</text>
<line x1="242" y1="337.3" x2="258.7" y2="337.3" stroke="#505050" stroke-width="1.35"/>
<text x="250.35" y="337.9" font-size="6.8" text-anchor="middle" fill="#222" stroke="#222" stroke-width="0.1">**</text>
<line x1="273.8" y1="355.7" x2="290.1" y2="355.7" stroke="#505050" stroke-width="1.35"/>
<text x="281.95" y="353.7" font-size="6.01" text-anchor="middle" fill="#2a2a2a" textLength="17.19" lengthAdjust="spacingAndGlyphs">0.5350</text>
<line x1="303" y1="341.1" x2="319.6" y2="341.1" stroke="#505050" stroke-width="1.35"/>
<text x="311.3" y="341.7" font-size="6.8" text-anchor="middle" fill="#222" stroke="#222" stroke-width="0.1">*</text>
<line x1="225.15" y1="355.9" x2="225.15" y2="362.3" stroke="#222" stroke-width="1.1"/>
<line x1="222.3" y1="355.9" x2="228" y2="355.9" stroke="#222" stroke-width="1.1"/>
<line x1="222.3" y1="362.3" x2="228" y2="362.3" stroke="#222" stroke-width="1.1"/>
<line x1="219.8" y1="359" x2="230.5" y2="359" stroke="#262626" stroke-width="1.4"/>
<circle cx="221.5" cy="348.9" r="1.75" fill="#a8142f"/>
<circle cx="225.3" cy="349.5" r="1.75" fill="#a8142f"/>
<circle cx="228.8" cy="348.9" r="1.75" fill="#a8142f"/>
<circle cx="225.3" cy="353.6" r="1.75" fill="#a8142f"/>
<circle cx="225.3" cy="357.1" r="1.75" fill="#a8142f"/>
<circle cx="222.9" cy="361.6" r="1.75" fill="#a8142f"/>
<circle cx="227.5" cy="361.2" r="1.75" fill="#a8142f"/>
<circle cx="222.9" cy="365" r="1.75" fill="#a8142f"/>
<circle cx="227.1" cy="369.7" r="1.75" fill="#a8142f"/>
<circle cx="225" cy="376.1" r="1.75" fill="#a8142f"/>
<line x1="240.9" y1="378" x2="240.9" y2="384.8" stroke="#222" stroke-width="1.1"/>
<line x1="238.3" y1="378" x2="243.5" y2="378" stroke="#222" stroke-width="1.1"/>
<line x1="238.3" y1="384.8" x2="243.5" y2="384.8" stroke="#222" stroke-width="1.1"/>
<line x1="235.4" y1="381.3" x2="246.1" y2="381.3" stroke="#262626" stroke-width="1.4"/>
<rect x="236.85" y="365.85" width="3.3" height="3.3" fill="#2f5690"/>
<rect x="242.05" y="365.45" width="3.3" height="3.3" fill="#2f5690"/>
<rect x="238.95" y="373.25" width="3.3" height="3.3" fill="#2f5690"/>
<rect x="237.15" y="378.95" width="3.3" height="3.3" fill="#2f5690"/>
<rect x="240.35" y="381.95" width="3.3" height="3.3" fill="#2f5690"/>
<rect x="235.45" y="387.05" width="3.3" height="3.3" fill="#2f5690"/>
<rect x="239.25" y="388.35" width="3.3" height="3.3" fill="#2f5690"/>
<rect x="238.95" y="392.85" width="3.3" height="3.3" fill="#2f5690"/>
<rect x="242.75" y="391.45" width="3.3" height="3.3" fill="#2f5690"/>
<line x1="256.5" y1="364.8" x2="256.5" y2="367.6" stroke="#222" stroke-width="1.1"/>
<line x1="254" y1="364.8" x2="259" y2="364.8" stroke="#222" stroke-width="1.1"/>
<line x1="254" y1="367.6" x2="259" y2="367.6" stroke="#222" stroke-width="1.1"/>
<line x1="252.3" y1="366.2" x2="262.2" y2="366.2" stroke="#262626" stroke-width="1.4"/>
<path d="M254.1 358.15L256.4 361.84L251.8 361.84Z" fill="#52a83c"/>
<path d="M259.3 359.55L261.6 363.24L257 363.24Z" fill="#52a83c"/>
<path d="M256.2 361.65L258.5 365.34L253.9 365.34Z" fill="#52a83c"/>
<path d="M252.3 363.65L254.6 367.34L250 367.34Z" fill="#52a83c"/>
<path d="M261 364.15L263.3 367.84L258.7 367.84Z" fill="#52a83c"/>
<path d="M257 367.65L259.3 371.34L254.7 371.34Z" fill="#52a83c"/>
<path d="M261 369.95L263.3 373.64L258.7 373.64Z" fill="#52a83c"/>
<path d="M254.4 374.55L256.7 378.24L252.1 378.24Z" fill="#52a83c"/>
<line x1="272.25" y1="375.5" x2="272.25" y2="379.3" stroke="#222" stroke-width="1.1"/>
<line x1="269.5" y1="375.5" x2="275" y2="375.5" stroke="#222" stroke-width="1.1"/>
<line x1="269.5" y1="379.3" x2="275" y2="379.3" stroke="#222" stroke-width="1.1"/>
<line x1="266.5" y1="377.4" x2="277.8" y2="377.4" stroke="#262626" stroke-width="1.4"/>
<path d="M272.2 363.9L274.3 360.48L270.1 360.48Z" fill="#5c1f5e"/>
<path d="M267.6 378.1L269.7 374.68L265.5 374.68Z" fill="#5c1f5e"/>
<path d="M270.4 377.7L272.5 374.28L268.3 374.28Z" fill="#5c1f5e"/>
<path d="M275 377.3L277.1 373.88L272.9 373.88Z" fill="#5c1f5e"/>
<path d="M269.6 380.8L271.7 377.38L267.5 377.38Z" fill="#5c1f5e"/>
<path d="M271.9 386.1L274 382.68L269.8 382.68Z" fill="#5c1f5e"/>
<path d="M275 385.4L277.1 381.98L272.9 381.98Z" fill="#5c1f5e"/>
<path d="M272.5 380.9L274.6 377.48L270.4 377.48Z" fill="#5c1f5e"/>
<line x1="288.25" y1="376.9" x2="288.25" y2="383.8" stroke="#222" stroke-width="1.1"/>
<line x1="285.5" y1="376.9" x2="291" y2="376.9" stroke="#222" stroke-width="1.1"/>
<line x1="285.5" y1="383.8" x2="291" y2="383.8" stroke="#222" stroke-width="1.1"/>
<line x1="283" y1="380" x2="293.5" y2="380" stroke="#262626" stroke-width="1.4"/>
<path d="M286.1 362.6L288.1 364.6L286.1 366.6L284.1 364.6Z" fill="#e8901c"/>
<path d="M290.4 367.7L292.4 369.7L290.4 371.7L288.4 369.7Z" fill="#e8901c"/>
<path d="M285 377.5L287 379.5L285 381.5L283 379.5Z" fill="#e8901c"/>
<path d="M288.1 377.2L290.1 379.2L288.1 381.2L286.1 379.2Z" fill="#e8901c"/>
<path d="M291.9 378L293.9 380L291.9 382L289.9 380Z" fill="#e8901c"/>
<path d="M286.5 385.2L288.5 387.2L286.5 389.2L284.5 387.2Z" fill="#e8901c"/>
<path d="M290.7 386.2L292.7 388.2L290.7 390.2L288.7 388.2Z" fill="#e8901c"/>
<path d="M288.1 391.4L290.1 393.4L288.1 395.4L286.1 393.4Z" fill="#e8901c"/>
<line x1="304.15" y1="377.7" x2="304.15" y2="383.5" stroke="#222" stroke-width="1.1"/>
<line x1="301.3" y1="377.7" x2="307" y2="377.7" stroke="#222" stroke-width="1.1"/>
<line x1="301.3" y1="383.5" x2="307" y2="383.5" stroke="#222" stroke-width="1.1"/>
<line x1="298.8" y1="380.5" x2="310.1" y2="380.5" stroke="#262626" stroke-width="1.4"/>
<circle cx="301.5" cy="368.8" r="1.55" fill="none" stroke="#2f6e4e" stroke-width="0.95"/>
<circle cx="306.5" cy="371.5" r="1.55" fill="none" stroke="#2f6e4e" stroke-width="0.95"/>
<circle cx="300.8" cy="374.9" r="1.55" fill="none" stroke="#2f6e4e" stroke-width="0.95"/>
<circle cx="307" cy="378.9" r="1.55" fill="none" stroke="#2f6e4e" stroke-width="0.95"/>
<circle cx="303.9" cy="380" r="1.55" fill="none" stroke="#2f6e4e" stroke-width="0.95"/>
<circle cx="301.5" cy="383.8" r="1.55" fill="none" stroke="#2f6e4e" stroke-width="0.95"/>
<circle cx="306.5" cy="386.6" r="1.55" fill="none" stroke="#2f6e4e" stroke-width="0.95"/>
<circle cx="303.9" cy="397.4" r="1.55" fill="none" stroke="#2f6e4e" stroke-width="0.95"/>
<line x1="319.75" y1="364.6" x2="319.75" y2="371.5" stroke="#222" stroke-width="1.1"/>
<line x1="317" y1="364.6" x2="322.5" y2="364.6" stroke="#222" stroke-width="1.1"/>
<line x1="317" y1="371.5" x2="322.5" y2="371.5" stroke="#222" stroke-width="1.1"/>
<line x1="314.2" y1="368.2" x2="325" y2="368.2" stroke="#262626" stroke-width="1.4"/>
<rect x="318.3" y="343.8" width="3.2" height="3.2" fill="none" stroke="#9b8fcf" stroke-width="0.85"/>
<rect x="315.7" y="364.1" width="3.2" height="3.2" fill="none" stroke="#9b8fcf" stroke-width="0.85"/>
<rect x="321.1" y="366.1" width="3.2" height="3.2" fill="none" stroke="#9b8fcf" stroke-width="0.85"/>
<rect x="322.9" y="367.2" width="3.2" height="3.2" fill="none" stroke="#9b8fcf" stroke-width="0.85"/>
<rect x="316.2" y="371.8" width="3.2" height="3.2" fill="none" stroke="#9b8fcf" stroke-width="0.85"/>
<rect x="319.9" y="372.2" width="3.2" height="3.2" fill="none" stroke="#9b8fcf" stroke-width="0.85"/>
<rect x="316.8" y="374.9" width="3.2" height="3.2" fill="none" stroke="#9b8fcf" stroke-width="0.85"/>
<line x1="52" y1="488.8" x2="52" y2="568.35" stroke="#151515" stroke-width="1.35"/>
<line x1="51.35" y1="567.7" x2="164.6" y2="567.7" stroke="#151515" stroke-width="1.35"/>
<line x1="48.4" y1="492.1" x2="52" y2="492.1" stroke="#1a1a1a" stroke-width="1.15"/>
<text x="45.2" y="494.5" font-size="6.6" text-anchor="end" fill="#1a1a1a" stroke="#1a1a1a" stroke-width="0.16" textLength="3.49" lengthAdjust="spacingAndGlyphs">8</text>
<line x1="48.4" y1="511" x2="52" y2="511" stroke="#1a1a1a" stroke-width="1.15"/>
<text x="45.2" y="513.4" font-size="6.6" text-anchor="end" fill="#1a1a1a" stroke="#1a1a1a" stroke-width="0.16" textLength="3.49" lengthAdjust="spacingAndGlyphs">6</text>
<line x1="48.4" y1="530" x2="52" y2="530" stroke="#1a1a1a" stroke-width="1.15"/>
<text x="45.2" y="532.4" font-size="6.6" text-anchor="end" fill="#1a1a1a" stroke="#1a1a1a" stroke-width="0.16" textLength="3.49" lengthAdjust="spacingAndGlyphs">4</text>
<line x1="48.4" y1="548.8" x2="52" y2="548.8" stroke="#1a1a1a" stroke-width="1.15"/>
<text x="45.2" y="551.2" font-size="6.6" text-anchor="end" fill="#1a1a1a" stroke="#1a1a1a" stroke-width="0.16" textLength="3.49" lengthAdjust="spacingAndGlyphs">2</text>
<line x1="48.4" y1="567.7" x2="52" y2="567.7" stroke="#1a1a1a" stroke-width="1.15"/>
<text x="45.2" y="570.1" font-size="6.6" text-anchor="end" fill="#1a1a1a" stroke="#1a1a1a" stroke-width="0.16" textLength="3.49" lengthAdjust="spacingAndGlyphs">0</text>
<line x1="60" y1="567.7" x2="60" y2="571.3" stroke="#1a1a1a" stroke-width="1.15"/>
<line x1="75.6" y1="567.7" x2="75.6" y2="571.3" stroke="#1a1a1a" stroke-width="1.15"/>
<line x1="91.5" y1="567.7" x2="91.5" y2="571.3" stroke="#1a1a1a" stroke-width="1.15"/>
<line x1="107.5" y1="567.7" x2="107.5" y2="571.3" stroke="#1a1a1a" stroke-width="1.15"/>
<line x1="123.7" y1="567.7" x2="123.7" y2="571.3" stroke="#1a1a1a" stroke-width="1.15"/>
<line x1="139.6" y1="567.7" x2="139.6" y2="571.3" stroke="#1a1a1a" stroke-width="1.15"/>
<line x1="155.6" y1="567.7" x2="155.6" y2="571.3" stroke="#1a1a1a" stroke-width="1.15"/>
<text x="107" y="484" font-size="8.63" text-anchor="middle" fill="#111" stroke="#111" stroke-width="0.3" textLength="29.95" lengthAdjust="spacingAndGlyphs">TFR:TFH</text>
<text x="34.7" y="528.4" font-size="9.89" text-anchor="middle" fill="#111" stroke="#111" stroke-width="0.28" transform="rotate(-90 34.7 528.4)" textLength="20.4" lengthAdjust="spacingAndGlyphs">Ratio</text>
<text x="62.3" y="577.7" font-size="6.98" text-anchor="end" fill="#1a1a1a" stroke="#1a1a1a" stroke-width="0.1" transform="rotate(-45 62.3 577.7)" textLength="25.26" lengthAdjust="spacingAndGlyphs">BM Only</text>
<text x="77.9" y="577.7" font-size="6.98" text-anchor="end" fill="#1a1a1a" stroke="#1a1a1a" stroke-width="0.1" transform="rotate(-45 77.9 577.7)" textLength="49.01" lengthAdjust="spacingAndGlyphs">BM + T (WT;Veh)</text>
<text x="93.8" y="577.7" font-size="6.98" text-anchor="end" fill="#1a1a1a" stroke="#1a1a1a" stroke-width="0.1" transform="rotate(-45 93.8 577.7)" textLength="48.87" lengthAdjust="spacingAndGlyphs">BM + T (WT;aPC)</text>
<text x="109.8" y="577.7" font-size="6.98" text-anchor="end" fill="#1a1a1a" stroke="#1a1a1a" stroke-width="0.1" transform="rotate(-45 109.8 577.7)" textLength="55.56" lengthAdjust="spacingAndGlyphs">BM + T (R46Q;Veh)</text>
<text x="126" y="577.7" font-size="6.98" text-anchor="end" fill="#1a1a1a" stroke="#1a1a1a" stroke-width="0.1" transform="rotate(-45 126 577.7)" textLength="56.94" lengthAdjust="spacingAndGlyphs">BM + T (R46Q; aPC)</text>
<text x="141.9" y="577.7" font-size="6.98" text-anchor="end" fill="#1a1a1a" stroke="#1a1a1a" stroke-width="0.1" transform="rotate(-45 141.9 577.7)" textLength="55.56" lengthAdjust="spacingAndGlyphs">BM + T (R41Q;Veh)</text>
<text x="157.9" y="577.7" font-size="6.98" text-anchor="end" fill="#1a1a1a" stroke="#1a1a1a" stroke-width="0.1" transform="rotate(-45 157.9 577.7)" textLength="56.94" lengthAdjust="spacingAndGlyphs">BM + T (R41Q; aPC)</text>
<line x1="63" y1="504.6" x2="76" y2="504.6" stroke="#505050" stroke-width="1.35"/>
<text x="69.5" y="505.2" font-size="6.8" text-anchor="middle" fill="#222" stroke="#222" stroke-width="0.1">****</text>
<line x1="78.8" y1="504.6" x2="92.3" y2="504.6" stroke="#505050" stroke-width="1.35"/>
<text x="85.55" y="505.2" font-size="6.8" text-anchor="middle" fill="#222" stroke="#222" stroke-width="0.1">*</text>
<line x1="109.2" y1="540.6" x2="121.9" y2="540.6" stroke="#505050" stroke-width="1.35"/>
<text x="115.55" y="538.6" font-size="6.01" text-anchor="middle" fill="#2a2a2a" textLength="17.19" lengthAdjust="spacingAndGlyphs">0.2346</text>
<line x1="141.2" y1="504.2" x2="154" y2="504.2" stroke="#505050" stroke-width="1.35"/>
<text x="147.6" y="504.8" font-size="6.8" text-anchor="middle" fill="#222" stroke="#222" stroke-width="0.1">**</text>
<line x1="59.75" y1="545.6" x2="59.75" y2="549.2" stroke="#222" stroke-width="1.1"/>
<line x1="57.2" y1="545.6" x2="62.3" y2="545.6" stroke="#222" stroke-width="1.1"/>
<line x1="57.2" y1="549.2" x2="62.3" y2="549.2" stroke="#222" stroke-width="1.1"/>
<line x1="54.3" y1="547.3" x2="65.4" y2="547.3" stroke="#262626" stroke-width="1.4"/>
<circle cx="56.5" cy="544.4" r="1.75" fill="#a8142f"/>
<circle cx="63.3" cy="542.7" r="1.75" fill="#a8142f"/>
<circle cx="59.6" cy="546.5" r="1.75" fill="#a8142f"/>
<circle cx="62.3" cy="549.4" r="1.75" fill="#a8142f"/>
<circle cx="57.7" cy="553.5" r="1.75" fill="#a8142f"/>
<line x1="75.5" y1="561.5" x2="75.5" y2="563" stroke="#222" stroke-width="1.1"/>
<line x1="73" y1="561.5" x2="78" y2="561.5" stroke="#222" stroke-width="1.1"/>
<line x1="73" y1="563" x2="78" y2="563" stroke="#222" stroke-width="1.1"/>
<line x1="70" y1="562.3" x2="81" y2="562.3" stroke="#262626" stroke-width="1.4"/>
<rect x="71.05" y="557.75" width="3.3" height="3.3" fill="#2f5690"/>
<rect x="73.35" y="560.25" width="3.3" height="3.3" fill="#2f5690"/>
<rect x="76.25" y="560.25" width="3.3" height="3.3" fill="#2f5690"/>
<rect x="74.35" y="562.55" width="3.3" height="3.3" fill="#2f5690"/>
<rect x="72.85" y="560.85" width="3.3" height="3.3" fill="#2f5690"/>
<rect x="77.35" y="561.15" width="3.3" height="3.3" fill="#2f5690"/>
<rect x="71.85" y="559.35" width="3.3" height="3.3" fill="#2f5690"/>
<line x1="91.85" y1="551.5" x2="91.85" y2="556.3" stroke="#222" stroke-width="1.1"/>
<line x1="89" y1="551.5" x2="94.7" y2="551.5" stroke="#222" stroke-width="1.1"/>
<line x1="89" y1="556.3" x2="94.7" y2="556.3" stroke="#222" stroke-width="1.1"/>
<line x1="86.1" y1="553.75" x2="97.6" y2="553.75" stroke="#262626" stroke-width="1.4"/>
<path d="M91.8 544.95L94.1 548.64L89.5 548.64Z" fill="#52a83c"/>
<path d="M89.4 548.15L91.7 551.84L87.1 551.84Z" fill="#52a83c"/>
<path d="M96.6 552.65L98.9 556.34L94.3 556.34Z" fill="#52a83c"/>
<path d="M94 555.25L96.3 558.94L91.7 558.94Z" fill="#52a83c"/>
<path d="M89.4 559.35L91.7 563.04L87.1 563.04Z" fill="#52a83c"/>
<line x1="108" y1="551.8" x2="108" y2="555.2" stroke="#222" stroke-width="1.1"/>
<line x1="105.5" y1="551.8" x2="110.5" y2="551.8" stroke="#222" stroke-width="1.1"/>
<line x1="105.5" y1="555.2" x2="110.5" y2="555.2" stroke="#222" stroke-width="1.1"/>
<line x1="102.6" y1="553.4" x2="113.9" y2="553.4" stroke="#262626" stroke-width="1.4"/>
<path d="M105.9 555.8L108 552.38L103.8 552.38Z" fill="#5c1f5e"/>
<path d="M110.1 553.2L112.2 549.78L108 549.78Z" fill="#5c1f5e"/>
<line x1="123.85" y1="549.3" x2="123.85" y2="551.1" stroke="#222" stroke-width="1.1"/>
<line x1="121.5" y1="549.3" x2="126.2" y2="549.3" stroke="#222" stroke-width="1.1"/>
<line x1="121.5" y1="551.1" x2="126.2" y2="551.1" stroke="#222" stroke-width="1.1"/>
<line x1="118.3" y1="550.2" x2="129.5" y2="550.2" stroke="#262626" stroke-width="1.4"/>
<path d="M123.8 544.8L125.8 546.8L123.8 548.8L121.8 546.8Z" fill="#e8901c"/>
<path d="M120.5 549.8L122.5 551.8L120.5 553.8L118.5 551.8Z" fill="#e8901c"/>
<path d="M123.9 551L125.9 553L123.9 555L121.9 553Z" fill="#e8901c"/>
<path d="M127.2 549.6L129.2 551.6L127.2 553.6L125.2 551.6Z" fill="#e8901c"/>
<line x1="139.75" y1="549.5" x2="139.75" y2="553.5" stroke="#222" stroke-width="1.1"/>
<line x1="137" y1="549.5" x2="142.5" y2="549.5" stroke="#222" stroke-width="1.1"/>
<line x1="137" y1="553.5" x2="142.5" y2="553.5" stroke="#222" stroke-width="1.1"/>
<line x1="134.2" y1="551.7" x2="145.4" y2="551.7" stroke="#262626" stroke-width="1.4"/>
<circle cx="140" cy="543.1" r="1.55" fill="none" stroke="#2f6e4e" stroke-width="0.95"/>
<circle cx="137.3" cy="548.8" r="1.55" fill="none" stroke="#2f6e4e" stroke-width="0.95"/>
<circle cx="142.5" cy="547.9" r="1.55" fill="none" stroke="#2f6e4e" stroke-width="0.95"/>
<circle cx="140.5" cy="551.5" r="1.55" fill="none" stroke="#2f6e4e" stroke-width="0.95"/>
<circle cx="138.7" cy="554.6" r="1.55" fill="none" stroke="#2f6e4e" stroke-width="0.95"/>
<circle cx="140" cy="561.9" r="1.55" fill="none" stroke="#2f6e4e" stroke-width="0.95"/>
<line x1="155.9" y1="517.7" x2="155.9" y2="532.1" stroke="#222" stroke-width="1.1"/>
<line x1="153" y1="517.7" x2="158.8" y2="517.7" stroke="#222" stroke-width="1.1"/>
<line x1="153" y1="532.1" x2="158.8" y2="532.1" stroke="#222" stroke-width="1.1"/>
<line x1="150.2" y1="525.2" x2="161.7" y2="525.2" stroke="#262626" stroke-width="1.4"/>
<rect x="156.3" y="506.9" width="3.2" height="3.2" fill="none" stroke="#9b8fcf" stroke-width="0.85"/>
<rect x="152.4" y="509.7" width="3.2" height="3.2" fill="none" stroke="#9b8fcf" stroke-width="0.85"/>
<rect x="152.4" y="526.5" width="3.2" height="3.2" fill="none" stroke="#9b8fcf" stroke-width="0.85"/>
<rect x="156.9" y="527.1" width="3.2" height="3.2" fill="none" stroke="#9b8fcf" stroke-width="0.85"/>
<rect x="154.4" y="546.9" width="3.2" height="3.2" fill="none" stroke="#9b8fcf" stroke-width="0.85"/>
<line x1="217.4" y1="489.4" x2="217.4" y2="568.35" stroke="#151515" stroke-width="1.35"/>
<line x1="216.75" y1="567.7" x2="330.3" y2="567.7" stroke="#151515" stroke-width="1.35"/>
<line x1="213.8" y1="492.2" x2="217.4" y2="492.2" stroke="#1a1a1a" stroke-width="1.15"/>
<text x="210.6" y="494.6" font-size="6.6" text-anchor="end" fill="#1a1a1a" stroke="#1a1a1a" stroke-width="0.16" textLength="3.49" lengthAdjust="spacingAndGlyphs">6</text>
<line x1="213.8" y1="517.2" x2="217.4" y2="517.2" stroke="#1a1a1a" stroke-width="1.15"/>
<text x="210.6" y="519.6" font-size="6.6" text-anchor="end" fill="#1a1a1a" stroke="#1a1a1a" stroke-width="0.16" textLength="3.49" lengthAdjust="spacingAndGlyphs">4</text>
<line x1="213.8" y1="542.7" x2="217.4" y2="542.7" stroke="#1a1a1a" stroke-width="1.15"/>
<text x="210.6" y="545.1" font-size="6.6" text-anchor="end" fill="#1a1a1a" stroke="#1a1a1a" stroke-width="0.16" textLength="3.49" lengthAdjust="spacingAndGlyphs">2</text>
<line x1="213.8" y1="567.7" x2="217.4" y2="567.7" stroke="#1a1a1a" stroke-width="1.15"/>
<text x="210.6" y="570.1" font-size="6.6" text-anchor="end" fill="#1a1a1a" stroke="#1a1a1a" stroke-width="0.16" textLength="3.49" lengthAdjust="spacingAndGlyphs">0</text>
<line x1="225" y1="567.7" x2="225" y2="571.3" stroke="#1a1a1a" stroke-width="1.15"/>
<line x1="241.3" y1="567.7" x2="241.3" y2="571.3" stroke="#1a1a1a" stroke-width="1.15"/>
<line x1="257.6" y1="567.7" x2="257.6" y2="571.3" stroke="#1a1a1a" stroke-width="1.15"/>
<line x1="274.2" y1="567.7" x2="274.2" y2="571.3" stroke="#1a1a1a" stroke-width="1.15"/>
<line x1="290.3" y1="567.7" x2="290.3" y2="571.3" stroke="#1a1a1a" stroke-width="1.15"/>
<line x1="306.5" y1="567.7" x2="306.5" y2="571.3" stroke="#1a1a1a" stroke-width="1.15"/>
<line x1="322.9" y1="567.7" x2="322.9" y2="571.3" stroke="#1a1a1a" stroke-width="1.15"/>
<text x="272.4" y="484.1" font-size="8.63" text-anchor="middle" fill="#111" stroke="#111" stroke-width="0.3" textLength="14.56" lengthAdjust="spacingAndGlyphs">TFH</text>
<text x="189.1" y="528.8" font-size="9.89" text-anchor="middle" fill="#111" stroke="#111" stroke-width="0.28" transform="rotate(-90 189.1 528.8)" textLength="108.7" lengthAdjust="spacingAndGlyphs">Frequency of  CD4+ Foxp3-</text>
<text x="200" y="528.8" font-size="9.89" text-anchor="middle" fill="#111" stroke="#111" stroke-width="0.28" transform="rotate(-90 200 528.8)" textLength="57.3" lengthAdjust="spacingAndGlyphs">CXCR5+ PD1hi</text>
<text x="227.3" y="577.7" font-size="6.98" text-anchor="end" fill="#1a1a1a" stroke="#1a1a1a" stroke-width="0.1" transform="rotate(-45 227.3 577.7)" textLength="25.26" lengthAdjust="spacingAndGlyphs">BM Only</text>
<text x="243.6" y="577.7" font-size="6.98" text-anchor="end" fill="#1a1a1a" stroke="#1a1a1a" stroke-width="0.1" transform="rotate(-45 243.6 577.7)" textLength="49.01" lengthAdjust="spacingAndGlyphs">BM + T (WT;Veh)</text>
<text x="259.9" y="577.7" font-size="6.98" text-anchor="end" fill="#1a1a1a" stroke="#1a1a1a" stroke-width="0.1" transform="rotate(-45 259.9 577.7)" textLength="48.87" lengthAdjust="spacingAndGlyphs">BM + T (WT;aPC)</text>
<text x="276.5" y="577.7" font-size="6.98" text-anchor="end" fill="#1a1a1a" stroke="#1a1a1a" stroke-width="0.1" transform="rotate(-45 276.5 577.7)" textLength="55.56" lengthAdjust="spacingAndGlyphs">BM + T (R46Q;Veh)</text>
<text x="292.6" y="577.7" font-size="6.98" text-anchor="end" fill="#1a1a1a" stroke="#1a1a1a" stroke-width="0.1" transform="rotate(-45 292.6 577.7)" textLength="56.94" lengthAdjust="spacingAndGlyphs">BM + T (R46Q; aPC)</text>
<text x="308.8" y="577.7" font-size="6.98" text-anchor="end" fill="#1a1a1a" stroke="#1a1a1a" stroke-width="0.1" transform="rotate(-45 308.8 577.7)" textLength="55.56" lengthAdjust="spacingAndGlyphs">BM + T (R41Q;Veh)</text>
<text x="325.2" y="577.7" font-size="6.98" text-anchor="end" fill="#1a1a1a" stroke="#1a1a1a" stroke-width="0.1" transform="rotate(-45 325.2 577.7)" textLength="56.94" lengthAdjust="spacingAndGlyphs">BM + T (R41Q; aPC)</text>
<line x1="228.3" y1="494.9" x2="241.8" y2="494.9" stroke="#505050" stroke-width="1.35"/>
<text x="235.05" y="495.5" font-size="6.8" text-anchor="middle" fill="#222" stroke="#222" stroke-width="0.1">*</text>
<line x1="244.8" y1="494.9" x2="257.9" y2="494.9" stroke="#505050" stroke-width="1.35"/>
<text x="251.35" y="492.9" font-size="6.01" text-anchor="middle" fill="#2a2a2a" textLength="17.19" lengthAdjust="spacingAndGlyphs">0.0938</text>
<line x1="275.1" y1="547.6" x2="288.6" y2="547.6" stroke="#505050" stroke-width="1.35"/>
<text x="281.85" y="545.6" font-size="6.01" text-anchor="middle" fill="#2a2a2a" textLength="17.19" lengthAdjust="spacingAndGlyphs">0.0822</text>
<line x1="307.8" y1="524.4" x2="321.3" y2="524.4" stroke="#505050" stroke-width="1.35"/>
<text x="314.55" y="525" font-size="6.8" text-anchor="middle" fill="#222" stroke="#222" stroke-width="0.1">*</text>
<line x1="225.25" y1="548.2" x2="225.25" y2="551.2" stroke="#222" stroke-width="1.1"/>
<line x1="222.5" y1="548.2" x2="228" y2="548.2" stroke="#222" stroke-width="1.1"/>
<line x1="222.5" y1="551.2" x2="228" y2="551.2" stroke="#222" stroke-width="1.1"/>
<line x1="219.8" y1="549.7" x2="230.5" y2="549.7" stroke="#262626" stroke-width="1.4"/>
<circle cx="223.1" cy="544.7" r="1.75" fill="#a8142f"/>
<circle cx="227.5" cy="546.8" r="1.75" fill="#a8142f"/>
<circle cx="221.5" cy="550" r="1.75" fill="#a8142f"/>
<circle cx="225.5" cy="549.5" r="1.75" fill="#a8142f"/>
<circle cx="229" cy="553.2" r="1.75" fill="#a8142f"/>
<circle cx="225.1" cy="553.6" r="1.75" fill="#a8142f"/>
<circle cx="228" cy="550" r="1.75" fill="#a8142f"/>
<line x1="241.2" y1="517.9" x2="241.2" y2="533.4" stroke="#222" stroke-width="1.1"/>
<line x1="238.2" y1="517.9" x2="244.2" y2="517.9" stroke="#222" stroke-width="1.1"/>
<line x1="238.2" y1="533.4" x2="244.2" y2="533.4" stroke="#222" stroke-width="1.1"/>
<line x1="236.2" y1="525.6" x2="246.9" y2="525.6" stroke="#262626" stroke-width="1.4"/>
<rect x="240.15" y="496.85" width="3.3" height="3.3" fill="#2f5690"/>
<rect x="239.75" y="520.35" width="3.3" height="3.3" fill="#2f5690"/>
<rect x="237.75" y="527.75" width="3.3" height="3.3" fill="#2f5690"/>
<rect x="242.55" y="530.85" width="3.3" height="3.3" fill="#2f5690"/>
<rect x="239.75" y="543.95" width="3.3" height="3.3" fill="#2f5690"/>
<line x1="258.15" y1="537.5" x2="258.15" y2="547.3" stroke="#222" stroke-width="1.1"/>
<line x1="255.5" y1="537.5" x2="260.8" y2="537.5" stroke="#222" stroke-width="1.1"/>
<line x1="255.5" y1="547.3" x2="260.8" y2="547.3" stroke="#222" stroke-width="1.1"/>
<line x1="252.1" y1="542.6" x2="263.2" y2="542.6" stroke="#262626" stroke-width="1.4"/>
<path d="M255.5 532.45L257.8 536.14L253.2 536.14Z" fill="#52a83c"/>
<path d="M260 530.95L262.3 534.64L257.7 534.64Z" fill="#52a83c"/>
<path d="M257.6 537.25L259.9 540.94L255.3 540.94Z" fill="#52a83c"/>
<path d="M255.5 553.05L257.8 556.74L253.2 556.74Z" fill="#52a83c"/>
<path d="M260 550.75L262.3 554.44L257.7 554.44Z" fill="#52a83c"/>
<line x1="274.25" y1="555.8" x2="274.25" y2="557.6" stroke="#222" stroke-width="1.1"/>
<line x1="271.5" y1="555.8" x2="277" y2="555.8" stroke="#222" stroke-width="1.1"/>
<line x1="271.5" y1="557.6" x2="277" y2="557.6" stroke="#222" stroke-width="1.1"/>
<line x1="269" y1="556.7" x2="279.8" y2="556.7" stroke="#262626" stroke-width="1.4"/>
<path d="M271.1 560L273.2 556.58L269 556.58Z" fill="#5c1f5e"/>
<path d="M273.7 557.7L275.8 554.28L271.6 554.28Z" fill="#5c1f5e"/>
<path d="M276.4 556.6L278.5 553.18L274.3 553.18Z" fill="#5c1f5e"/>
<path d="M274.5 559.4L276.6 555.98L272.4 555.98Z" fill="#5c1f5e"/>
<line x1="290.5" y1="560.6" x2="290.5" y2="561.8" stroke="#222" stroke-width="1.1"/>
<line x1="288" y1="560.6" x2="293" y2="560.6" stroke="#222" stroke-width="1.1"/>
<line x1="288" y1="561.8" x2="293" y2="561.8" stroke="#222" stroke-width="1.1"/>
<line x1="285.2" y1="561.2" x2="296" y2="561.2" stroke="#262626" stroke-width="1.4"/>
<path d="M287.9 560.1L289.9 562.1L287.9 564.1L285.9 562.1Z" fill="#e8901c"/>
<path d="M289.9 558.1L291.9 560.1L289.9 562.1L287.9 560.1Z" fill="#e8901c"/>
<path d="M291.9 557.4L293.9 559.4L291.9 561.4L289.9 559.4Z" fill="#e8901c"/>
<path d="M289 561.5L291 563.5L289 565.5L287 563.5Z" fill="#e8901c"/>
<path d="M292 559.5L294 561.5L292 563.5L290 561.5Z" fill="#e8901c"/>
<line x1="306.5" y1="544.6" x2="306.5" y2="552.4" stroke="#222" stroke-width="1.1"/>
<line x1="303.8" y1="544.6" x2="309.2" y2="544.6" stroke="#222" stroke-width="1.1"/>
<line x1="303.8" y1="552.4" x2="309.2" y2="552.4" stroke="#222" stroke-width="1.1"/>
<line x1="301.1" y1="548.9" x2="311.8" y2="548.9" stroke="#262626" stroke-width="1.4"/>
<circle cx="306.5" cy="532.8" r="1.55" fill="none" stroke="#2f6e4e" stroke-width="0.95"/>
<circle cx="306.5" cy="546" r="1.55" fill="none" stroke="#2f6e4e" stroke-width="0.95"/>
<circle cx="304" cy="552" r="1.55" fill="none" stroke="#2f6e4e" stroke-width="0.95"/>
<circle cx="308.3" cy="552" r="1.55" fill="none" stroke="#2f6e4e" stroke-width="0.95"/>
<circle cx="306.5" cy="558.8" r="1.55" fill="none" stroke="#2f6e4e" stroke-width="0.95"/>
<line x1="322.75" y1="562" x2="322.75" y2="563.5" stroke="#222" stroke-width="1.1"/>
<line x1="320" y1="562" x2="325.5" y2="562" stroke="#222" stroke-width="1.1"/>
<line x1="320" y1="563.5" x2="325.5" y2="563.5" stroke="#222" stroke-width="1.1"/>
<line x1="317.5" y1="562.8" x2="328.3" y2="562.8" stroke="#262626" stroke-width="1.4"/>
<rect x="321.3" y="557.6" width="3.2" height="3.2" fill="none" stroke="#9b8fcf" stroke-width="0.85"/>
<rect x="318.6" y="561.2" width="3.2" height="3.2" fill="none" stroke="#9b8fcf" stroke-width="0.85"/>
<rect x="322.6" y="561.2" width="3.2" height="3.2" fill="none" stroke="#9b8fcf" stroke-width="0.85"/>
<rect x="320.6" y="560.9" width="3.2" height="3.2" fill="none" stroke="#9b8fcf" stroke-width="0.85"/>
<line x1="384.5" y1="489" x2="384.5" y2="568.55" stroke="#151515" stroke-width="1.35"/>
<line x1="383.85" y1="567.9" x2="498.5" y2="567.9" stroke="#151515" stroke-width="1.35"/>
<line x1="380.9" y1="492.2" x2="384.5" y2="492.2" stroke="#1a1a1a" stroke-width="1.15"/>
<text x="377.7" y="494.6" font-size="6.6" text-anchor="end" fill="#1a1a1a" stroke="#1a1a1a" stroke-width="0.16" textLength="3.49" lengthAdjust="spacingAndGlyphs">5</text>
<line x1="380.9" y1="507.2" x2="384.5" y2="507.2" stroke="#1a1a1a" stroke-width="1.15"/>
<text x="377.7" y="509.6" font-size="6.6" text-anchor="end" fill="#1a1a1a" stroke="#1a1a1a" stroke-width="0.16" textLength="3.49" lengthAdjust="spacingAndGlyphs">4</text>
<line x1="380.9" y1="522.4" x2="384.5" y2="522.4" stroke="#1a1a1a" stroke-width="1.15"/>
<text x="377.7" y="524.8" font-size="6.6" text-anchor="end" fill="#1a1a1a" stroke="#1a1a1a" stroke-width="0.16" textLength="3.49" lengthAdjust="spacingAndGlyphs">3</text>
<line x1="380.9" y1="537.5" x2="384.5" y2="537.5" stroke="#1a1a1a" stroke-width="1.15"/>
<text x="377.7" y="539.9" font-size="6.6" text-anchor="end" fill="#1a1a1a" stroke="#1a1a1a" stroke-width="0.16" textLength="3.49" lengthAdjust="spacingAndGlyphs">2</text>
<line x1="380.9" y1="552.7" x2="384.5" y2="552.7" stroke="#1a1a1a" stroke-width="1.15"/>
<text x="377.7" y="555.1" font-size="6.6" text-anchor="end" fill="#1a1a1a" stroke="#1a1a1a" stroke-width="0.16" textLength="3.49" lengthAdjust="spacingAndGlyphs">1</text>
<line x1="380.9" y1="567.9" x2="384.5" y2="567.9" stroke="#1a1a1a" stroke-width="1.15"/>
<text x="377.7" y="570.3" font-size="6.6" text-anchor="end" fill="#1a1a1a" stroke="#1a1a1a" stroke-width="0.16" textLength="3.49" lengthAdjust="spacingAndGlyphs">0</text>
<line x1="392.1" y1="567.9" x2="392.1" y2="571.5" stroke="#1a1a1a" stroke-width="1.15"/>
<line x1="408.3" y1="567.9" x2="408.3" y2="571.5" stroke="#1a1a1a" stroke-width="1.15"/>
<line x1="424.6" y1="567.9" x2="424.6" y2="571.5" stroke="#1a1a1a" stroke-width="1.15"/>
<line x1="441.3" y1="567.9" x2="441.3" y2="571.5" stroke="#1a1a1a" stroke-width="1.15"/>
<line x1="457.4" y1="567.9" x2="457.4" y2="571.5" stroke="#1a1a1a" stroke-width="1.15"/>
<line x1="473.6" y1="567.9" x2="473.6" y2="571.5" stroke="#1a1a1a" stroke-width="1.15"/>
<line x1="489.9" y1="567.9" x2="489.9" y2="571.5" stroke="#1a1a1a" stroke-width="1.15"/>
<text x="439.7" y="484.1" font-size="8.63" text-anchor="middle" fill="#111" stroke="#111" stroke-width="0.3" textLength="13.55" lengthAdjust="spacingAndGlyphs">TFR</text>
<text x="356.1" y="528.9" font-size="9.89" text-anchor="middle" fill="#111" stroke="#111" stroke-width="0.28" transform="rotate(-90 356.1 528.9)" textLength="108.1" lengthAdjust="spacingAndGlyphs">Frequency of CD4+ Foxp3+</text>
<text x="366.4" y="528.9" font-size="9.89" text-anchor="middle" fill="#111" stroke="#111" stroke-width="0.28" transform="rotate(-90 366.4 528.9)" textLength="57.9" lengthAdjust="spacingAndGlyphs">CXCR5+ PD1hi</text>
<text x="394.4" y="577.9" font-size="6.98" text-anchor="end" fill="#1a1a1a" stroke="#1a1a1a" stroke-width="0.1" transform="rotate(-45 394.4 577.9)" textLength="25.26" lengthAdjust="spacingAndGlyphs">BM Only</text>
<text x="410.6" y="577.9" font-size="6.98" text-anchor="end" fill="#1a1a1a" stroke="#1a1a1a" stroke-width="0.1" transform="rotate(-45 410.6 577.9)" textLength="49.01" lengthAdjust="spacingAndGlyphs">BM + T (WT;Veh)</text>
<text x="426.9" y="577.9" font-size="6.98" text-anchor="end" fill="#1a1a1a" stroke="#1a1a1a" stroke-width="0.1" transform="rotate(-45 426.9 577.9)" textLength="48.87" lengthAdjust="spacingAndGlyphs">BM + T (WT;aPC)</text>
<text x="443.6" y="577.9" font-size="6.98" text-anchor="end" fill="#1a1a1a" stroke="#1a1a1a" stroke-width="0.1" transform="rotate(-45 443.6 577.9)" textLength="55.56" lengthAdjust="spacingAndGlyphs">BM + T (R46Q;Veh)</text>
<text x="459.7" y="577.9" font-size="6.98" text-anchor="end" fill="#1a1a1a" stroke="#1a1a1a" stroke-width="0.1" transform="rotate(-45 459.7 577.9)" textLength="56.94" lengthAdjust="spacingAndGlyphs">BM + T (R46Q; aPC)</text>
<text x="475.9" y="577.9" font-size="6.98" text-anchor="end" fill="#1a1a1a" stroke="#1a1a1a" stroke-width="0.1" transform="rotate(-45 475.9 577.9)" textLength="55.56" lengthAdjust="spacingAndGlyphs">BM + T (R41Q;Veh)</text>
<text x="492.2" y="577.9" font-size="6.98" text-anchor="end" fill="#1a1a1a" stroke="#1a1a1a" stroke-width="0.1" transform="rotate(-45 492.2 577.9)" textLength="56.94" lengthAdjust="spacingAndGlyphs">BM + T (R41Q; aPC)</text>
<line x1="395.5" y1="495.1" x2="409" y2="495.1" stroke="#505050" stroke-width="1.35"/>
<text x="402.25" y="495.7" font-size="6.8" text-anchor="middle" fill="#222" stroke="#222" stroke-width="0.1">*</text>
<line x1="411.6" y1="495.1" x2="425" y2="495.1" stroke="#505050" stroke-width="1.35"/>
<text x="418.3" y="493.1" font-size="6.01" text-anchor="middle" fill="#2a2a2a" textLength="17.19" lengthAdjust="spacingAndGlyphs">0.1300</text>
<line x1="442.3" y1="536.8" x2="455.7" y2="536.8" stroke="#505050" stroke-width="1.35"/>
<text x="449" y="534.8" font-size="6.01" text-anchor="middle" fill="#2a2a2a" textLength="17.19" lengthAdjust="spacingAndGlyphs">0.2946</text>
<line x1="474.4" y1="501.5" x2="488.4" y2="501.5" stroke="#505050" stroke-width="1.35"/>
<text x="481.4" y="499.5" font-size="6.01" text-anchor="middle" fill="#2a2a2a" textLength="17.19" lengthAdjust="spacingAndGlyphs">0.2429</text>
<line x1="392.4" y1="515" x2="392.4" y2="526.8" stroke="#222" stroke-width="1.1"/>
<line x1="389.6" y1="515" x2="395.2" y2="515" stroke="#222" stroke-width="1.1"/>
<line x1="389.6" y1="526.8" x2="395.2" y2="526.8" stroke="#222" stroke-width="1.1"/>
<line x1="387.4" y1="520.7" x2="397.8" y2="520.7" stroke="#262626" stroke-width="1.4"/>
<circle cx="392.1" cy="499.4" r="1.75" fill="#a8142f"/>
<circle cx="389.7" cy="519.3" r="1.75" fill="#a8142f"/>
<circle cx="394.8" cy="521.6" r="1.75" fill="#a8142f"/>
<circle cx="394.3" cy="530.2" r="1.75" fill="#a8142f"/>
<circle cx="390" cy="533.2" r="1.75" fill="#a8142f"/>
<line x1="408.25" y1="535.8" x2="408.25" y2="544.1" stroke="#222" stroke-width="1.1"/>
<line x1="405.5" y1="535.8" x2="411" y2="535.8" stroke="#222" stroke-width="1.1"/>
<line x1="405.5" y1="544.1" x2="411" y2="544.1" stroke="#222" stroke-width="1.1"/>
<line x1="403" y1="540.1" x2="413.9" y2="540.1" stroke="#262626" stroke-width="1.4"/>
<rect x="409.95" y="526.85" width="3.3" height="3.3" fill="#2f5690"/>
<rect x="403.55" y="530.35" width="3.3" height="3.3" fill="#2f5690"/>
<rect x="407.05" y="531.05" width="3.3" height="3.3" fill="#2f5690"/>
<rect x="408.75" y="547.95" width="3.3" height="3.3" fill="#2f5690"/>
<rect x="404.25" y="550.55" width="3.3" height="3.3" fill="#2f5690"/>
<line x1="424.5" y1="525" x2="424.5" y2="532" stroke="#222" stroke-width="1.1"/>
<line x1="421.8" y1="525" x2="427.2" y2="525" stroke="#222" stroke-width="1.1"/>
<line x1="421.8" y1="532" x2="427.2" y2="532" stroke="#222" stroke-width="1.1"/>
<line x1="419.1" y1="528.5" x2="430.2" y2="528.5" stroke="#262626" stroke-width="1.4"/>
<path d="M422.5 519.05L424.8 522.74L420.2 522.74Z" fill="#52a83c"/>
<path d="M427.7 516.75L430 520.44L425.4 520.44Z" fill="#52a83c"/>
<path d="M422 525.45L424.3 529.14L419.7 529.14Z" fill="#52a83c"/>
<path d="M427.2 532.35L429.5 536.04L424.9 536.04Z" fill="#52a83c"/>
<path d="M424.6 536.35L426.9 540.04L422.3 540.04Z" fill="#52a83c"/>
<line x1="441.25" y1="547.2" x2="441.25" y2="549.4" stroke="#222" stroke-width="1.1"/>
<line x1="438.5" y1="547.2" x2="444" y2="547.2" stroke="#222" stroke-width="1.1"/>
<line x1="438.5" y1="549.4" x2="444" y2="549.4" stroke="#222" stroke-width="1.1"/>
<line x1="436" y1="548.3" x2="446.6" y2="548.3" stroke="#262626" stroke-width="1.4"/>
<path d="M438.9 551.3L441 547.88L436.8 547.88Z" fill="#5c1f5e"/>
<path d="M443 547.7L445.1 544.28L440.9 544.28Z" fill="#5c1f5e"/>
<path d="M441 549.4L443.1 545.98L438.9 545.98Z" fill="#5c1f5e"/>
<path d="M439.5 548.9L441.6 545.48L437.4 545.48Z" fill="#5c1f5e"/>
<line x1="457.25" y1="550.1" x2="457.25" y2="554.4" stroke="#222" stroke-width="1.1"/>
<line x1="454.5" y1="550.1" x2="460" y2="550.1" stroke="#222" stroke-width="1.1"/>
<line x1="454.5" y1="554.4" x2="460" y2="554.4" stroke="#222" stroke-width="1.1"/>
<line x1="451.6" y1="552.6" x2="462.9" y2="552.6" stroke="#262626" stroke-width="1.4"/>
<path d="M455.2 545.5L457.2 547.5L455.2 549.5L453.2 547.5Z" fill="#e8901c"/>
<path d="M461.7 548.1L463.7 550.1L461.7 552.1L459.7 550.1Z" fill="#e8901c"/>
<path d="M459.6 552.4L461.6 554.4L459.6 556.4L457.6 554.4Z" fill="#e8901c"/>
<path d="M455.2 555.6L457.2 557.6L455.2 559.6L453.2 557.6Z" fill="#e8901c"/>
<path d="M458 549.5L460 551.5L458 553.5L456 551.5Z" fill="#e8901c"/>
<line x1="473.75" y1="526.6" x2="473.75" y2="540.7" stroke="#222" stroke-width="1.1"/>
<line x1="471.1" y1="526.6" x2="476.4" y2="526.6" stroke="#222" stroke-width="1.1"/>
<line x1="471.1" y1="540.7" x2="476.4" y2="540.7" stroke="#222" stroke-width="1.1"/>
<line x1="468.2" y1="533.5" x2="479" y2="533.5" stroke="#262626" stroke-width="1.4"/>
<circle cx="473.3" cy="505.7" r="1.55" fill="none" stroke="#2f6e4e" stroke-width="0.95"/>
<circle cx="473.5" cy="532" r="1.55" fill="none" stroke="#2f6e4e" stroke-width="0.95"/>
<circle cx="470.1" cy="541.5" r="1.55" fill="none" stroke="#2f6e4e" stroke-width="0.95"/>
<circle cx="473.3" cy="544.6" r="1.55" fill="none" stroke="#2f6e4e" stroke-width="0.95"/>
<circle cx="476.9" cy="544.3" r="1.55" fill="none" stroke="#2f6e4e" stroke-width="0.95"/>
<line x1="490.25" y1="541.5" x2="490.25" y2="545.5" stroke="#222" stroke-width="1.1"/>
<line x1="487.5" y1="541.5" x2="493" y2="541.5" stroke="#222" stroke-width="1.1"/>
<line x1="487.5" y1="545.5" x2="493" y2="545.5" stroke="#222" stroke-width="1.1"/>
<line x1="484.5" y1="543.6" x2="496.3" y2="543.6" stroke="#262626" stroke-width="1.4"/>
<rect x="488.3" y="533.8" width="3.2" height="3.2" fill="none" stroke="#9b8fcf" stroke-width="0.85"/>
<rect x="485.4" y="539.9" width="3.2" height="3.2" fill="none" stroke="#9b8fcf" stroke-width="0.85"/>
<rect x="493" y="541.3" width="3.2" height="3.2" fill="none" stroke="#9b8fcf" stroke-width="0.85"/>
<rect x="485.8" y="546.4" width="3.2" height="3.2" fill="none" stroke="#9b8fcf" stroke-width="0.85"/>
<rect x="490.1" y="546.4" width="3.2" height="3.2" fill="none" stroke="#9b8fcf" stroke-width="0.85"/>
<line x1="52" y1="648" x2="52" y2="723.85" stroke="#151515" stroke-width="1.35"/>
<line x1="51.35" y1="723.2" x2="135" y2="723.2" stroke="#151515" stroke-width="1.35"/>
<line x1="48.4" y1="650" x2="52" y2="650" stroke="#1a1a1a" stroke-width="1.15"/>
<text x="45.2" y="652.4" font-size="6.6" text-anchor="end" fill="#1a1a1a" stroke="#1a1a1a" stroke-width="0.16" textLength="3.49" lengthAdjust="spacingAndGlyphs">4</text>
<line x1="48.4" y1="668.75" x2="52" y2="668.75" stroke="#1a1a1a" stroke-width="1.15"/>
<text x="45.2" y="671.15" font-size="6.6" text-anchor="end" fill="#1a1a1a" stroke="#1a1a1a" stroke-width="0.16" textLength="3.49" lengthAdjust="spacingAndGlyphs">3</text>
<line x1="48.4" y1="687" x2="52" y2="687" stroke="#1a1a1a" stroke-width="1.15"/>
<text x="45.2" y="689.4" font-size="6.6" text-anchor="end" fill="#1a1a1a" stroke="#1a1a1a" stroke-width="0.16" textLength="3.49" lengthAdjust="spacingAndGlyphs">2</text>
<line x1="48.4" y1="705" x2="52" y2="705" stroke="#1a1a1a" stroke-width="1.15"/>
<text x="45.2" y="707.4" font-size="6.6" text-anchor="end" fill="#1a1a1a" stroke="#1a1a1a" stroke-width="0.16" textLength="3.49" lengthAdjust="spacingAndGlyphs">1</text>
<line x1="48.4" y1="723.2" x2="52" y2="723.2" stroke="#1a1a1a" stroke-width="1.15"/>
<text x="45.2" y="725.6" font-size="6.6" text-anchor="end" fill="#1a1a1a" stroke="#1a1a1a" stroke-width="0.16" textLength="3.49" lengthAdjust="spacingAndGlyphs">0</text>
<line x1="64.5" y1="723.2" x2="64.5" y2="726.8" stroke="#1a1a1a" stroke-width="1.15"/>
<line x1="83.5" y1="723.2" x2="83.5" y2="726.8" stroke="#1a1a1a" stroke-width="1.15"/>
<line x1="102.4" y1="723.2" x2="102.4" y2="726.8" stroke="#1a1a1a" stroke-width="1.15"/>
<line x1="121.5" y1="723.2" x2="121.5" y2="726.8" stroke="#1a1a1a" stroke-width="1.15"/>
<text x="93.3" y="640.6" font-size="8.63" text-anchor="middle" fill="#111" stroke="#111" stroke-width="0.3" textLength="29.95" lengthAdjust="spacingAndGlyphs">TFR:TFH</text>
<text x="34.9" y="685" font-size="9.89" text-anchor="middle" fill="#111" stroke="#111" stroke-width="0.28" transform="rotate(-90 34.9 685)" textLength="75.5" lengthAdjust="spacingAndGlyphs">Ratio of TFR to TFH</text>
<text x="67.5" y="732.8" font-size="6.98" text-anchor="end" fill="#1a1a1a" stroke="#1a1a1a" stroke-width="0.1" transform="rotate(-45 67.5 732.8)" textLength="16.96" lengthAdjust="spacingAndGlyphs">Naive</text>
<text x="86.5" y="732.8" font-size="6.98" text-anchor="end" fill="#1a1a1a" stroke="#1a1a1a" stroke-width="0.1" transform="rotate(-45 86.5 732.8)" textLength="32.52" lengthAdjust="spacingAndGlyphs">WT + SRBC</text>
<text x="105.4" y="732.8" font-size="6.98" text-anchor="end" fill="#1a1a1a" stroke="#1a1a1a" stroke-width="0.1" transform="rotate(-45 105.4 732.8)" textLength="39.07" lengthAdjust="spacingAndGlyphs">R46Q + SRBC</text>
<text x="124.5" y="732.8" font-size="6.98" text-anchor="end" fill="#1a1a1a" stroke="#1a1a1a" stroke-width="0.1" transform="rotate(-45 124.5 732.8)" textLength="39.07" lengthAdjust="spacingAndGlyphs">R41Q + SRBC</text>
<line x1="62.5" y1="656.3" x2="81.25" y2="656.3" stroke="#505050" stroke-width="1.35"/>
<text x="71.88" y="656.9" font-size="6.8" text-anchor="middle" fill="#222" stroke="#222" stroke-width="0.1">**</text>
<line x1="83" y1="656.3" x2="102" y2="656.3" stroke="#505050" stroke-width="1.35"/>
<text x="92.5" y="654.3" font-size="6.01" text-anchor="middle" fill="#2a2a2a" textLength="17.19" lengthAdjust="spacingAndGlyphs">0.1846</text>
<line x1="64.62" y1="668" x2="64.62" y2="684.25" stroke="#222" stroke-width="1.1"/>
<line x1="61.25" y1="668" x2="68" y2="668" stroke="#222" stroke-width="1.1"/>
<line x1="61.25" y1="684.25" x2="68" y2="684.25" stroke="#222" stroke-width="1.1"/>
<line x1="58" y1="676.25" x2="71.25" y2="676.25" stroke="#262626" stroke-width="1.4"/>
<circle cx="64.5" cy="660.5" r="1.75" fill="#a8142f"/>
<circle cx="64.5" cy="681.25" r="1.75" fill="#a8142f"/>
<circle cx="64.5" cy="687.5" r="1.75" fill="#a8142f"/>
<line x1="83.5" y1="711.8" x2="83.5" y2="712.8" stroke="#222" stroke-width="1.1"/>
<line x1="80" y1="711.8" x2="87" y2="711.8" stroke="#222" stroke-width="1.1"/>
<line x1="80" y1="712.8" x2="87" y2="712.8" stroke="#222" stroke-width="1.1"/>
<line x1="77" y1="712.3" x2="90" y2="712.3" stroke="#262626" stroke-width="1.4"/>
<rect x="76.35" y="710.65" width="3.3" height="3.3" fill="#2f5690"/>
<rect x="79.55" y="711.35" width="3.3" height="3.3" fill="#2f5690"/>
<rect x="82.85" y="710.65" width="3.3" height="3.3" fill="#2f5690"/>
<rect x="85.95" y="709.85" width="3.3" height="3.3" fill="#2f5690"/>
<rect x="87.15" y="711.15" width="3.3" height="3.3" fill="#2f5690"/>
<line x1="102.5" y1="711" x2="102.5" y2="712" stroke="#222" stroke-width="1.1"/>
<line x1="99" y1="711" x2="106" y2="711" stroke="#222" stroke-width="1.1"/>
<line x1="99" y1="712" x2="106" y2="712" stroke="#222" stroke-width="1.1"/>
<line x1="96.5" y1="711.6" x2="109.2" y2="711.6" stroke="#262626" stroke-width="1.4"/>
<path d="M98 709.15L100.3 712.84L95.7 712.84Z" fill="#52a83c"/>
<path d="M101 709.45L103.3 713.14L98.7 713.14Z" fill="#52a83c"/>
<path d="M104 708.95L106.3 712.64L101.7 712.64Z" fill="#52a83c"/>
<path d="M107 709.45L109.3 713.14L104.7 713.14Z" fill="#52a83c"/>
<path d="M102.4 709.15L104.7 712.84L100.1 712.84Z" fill="#52a83c"/>
<line x1="121.5" y1="713.6" x2="121.5" y2="715.4" stroke="#222" stroke-width="1.1"/>
<line x1="118" y1="713.6" x2="125" y2="713.6" stroke="#222" stroke-width="1.1"/>
<line x1="118" y1="715.4" x2="125" y2="715.4" stroke="#222" stroke-width="1.1"/>
<line x1="115" y1="714.6" x2="128.1" y2="714.6" stroke="#262626" stroke-width="1.4"/>
<path d="M117.3 714.2L119.4 710.78L115.2 710.78Z" fill="#5c1f5e"/>
<path d="M120.8 712.7L122.9 709.28L118.7 709.28Z" fill="#5c1f5e"/>
<path d="M121.9 713.1L124 709.68L119.8 709.68Z" fill="#5c1f5e"/>
<path d="M119.6 716.1L121.7 712.68L117.5 712.68Z" fill="#5c1f5e"/>
<path d="M121.5 719.2L123.6 715.78L119.4 715.78Z" fill="#5c1f5e"/>
<path d="M124.6 716.1L126.7 712.68L122.5 712.68Z" fill="#5c1f5e"/>
<path d="M126 716.3L128.1 712.88L123.9 712.88Z" fill="#5c1f5e"/>
<line x1="181.3" y1="647.5" x2="181.3" y2="723.75" stroke="#151515" stroke-width="1.35"/>
<line x1="180.65" y1="723.1" x2="264.2" y2="723.1" stroke="#151515" stroke-width="1.35"/>
<line x1="177.7" y1="650" x2="181.3" y2="650" stroke="#1a1a1a" stroke-width="1.15"/>
<text x="174.5" y="652.4" font-size="6.6" text-anchor="end" fill="#1a1a1a" stroke="#1a1a1a" stroke-width="0.16" textLength="3.49" lengthAdjust="spacingAndGlyphs">8</text>
<line x1="177.7" y1="668.75" x2="181.3" y2="668.75" stroke="#1a1a1a" stroke-width="1.15"/>
<text x="174.5" y="671.15" font-size="6.6" text-anchor="end" fill="#1a1a1a" stroke="#1a1a1a" stroke-width="0.16" textLength="3.49" lengthAdjust="spacingAndGlyphs">6</text>
<line x1="177.7" y1="687" x2="181.3" y2="687" stroke="#1a1a1a" stroke-width="1.15"/>
<text x="174.5" y="689.4" font-size="6.6" text-anchor="end" fill="#1a1a1a" stroke="#1a1a1a" stroke-width="0.16" textLength="3.49" lengthAdjust="spacingAndGlyphs">4</text>
<line x1="177.7" y1="705" x2="181.3" y2="705" stroke="#1a1a1a" stroke-width="1.15"/>
<text x="174.5" y="707.4" font-size="6.6" text-anchor="end" fill="#1a1a1a" stroke="#1a1a1a" stroke-width="0.16" textLength="3.49" lengthAdjust="spacingAndGlyphs">2</text>
<line x1="177.7" y1="723.1" x2="181.3" y2="723.1" stroke="#1a1a1a" stroke-width="1.15"/>
<text x="174.5" y="725.5" font-size="6.6" text-anchor="end" fill="#1a1a1a" stroke="#1a1a1a" stroke-width="0.16" textLength="3.49" lengthAdjust="spacingAndGlyphs">0</text>
<line x1="194.5" y1="723.1" x2="194.5" y2="726.7" stroke="#1a1a1a" stroke-width="1.15"/>
<line x1="213" y1="723.1" x2="213" y2="726.7" stroke="#1a1a1a" stroke-width="1.15"/>
<line x1="231.9" y1="723.1" x2="231.9" y2="726.7" stroke="#1a1a1a" stroke-width="1.15"/>
<line x1="251.2" y1="723.1" x2="251.2" y2="726.7" stroke="#1a1a1a" stroke-width="1.15"/>
<text x="222.5" y="640.5" font-size="8.63" text-anchor="middle" fill="#111" stroke="#111" stroke-width="0.3" textLength="14.56" lengthAdjust="spacingAndGlyphs">TFH</text>
<text x="153.7" y="685.6" font-size="9.89" text-anchor="middle" fill="#111" stroke="#111" stroke-width="0.28" transform="rotate(-90 153.7 685.6)" textLength="109.3" lengthAdjust="spacingAndGlyphs">% PD-1(hi) BCL6+ of FoxP3-</text>
<text x="164.9" y="684.6" font-size="9.89" text-anchor="middle" fill="#111" stroke="#111" stroke-width="0.28" transform="rotate(-90 164.9 684.6)" textLength="49.6" lengthAdjust="spacingAndGlyphs">TCRβ+ CD4+</text>
<text x="197.5" y="732.7" font-size="6.98" text-anchor="end" fill="#1a1a1a" stroke="#1a1a1a" stroke-width="0.1" transform="rotate(-45 197.5 732.7)" textLength="16.96" lengthAdjust="spacingAndGlyphs">Naive</text>
<text x="216" y="732.7" font-size="6.98" text-anchor="end" fill="#1a1a1a" stroke="#1a1a1a" stroke-width="0.1" transform="rotate(-45 216 732.7)" textLength="32.52" lengthAdjust="spacingAndGlyphs">WT + SRBC</text>
<text x="234.9" y="732.7" font-size="6.98" text-anchor="end" fill="#1a1a1a" stroke="#1a1a1a" stroke-width="0.1" transform="rotate(-45 234.9 732.7)" textLength="39.07" lengthAdjust="spacingAndGlyphs">R46Q + SRBC</text>
<text x="254.2" y="732.7" font-size="6.98" text-anchor="end" fill="#1a1a1a" stroke="#1a1a1a" stroke-width="0.1" transform="rotate(-45 254.2 732.7)" textLength="39.07" lengthAdjust="spacingAndGlyphs">R41Q + SRBC</text>
<line x1="192.4" y1="660.8" x2="210.4" y2="660.8" stroke="#505050" stroke-width="1.35"/>
<text x="201.4" y="661.4" font-size="6.8" text-anchor="middle" fill="#222" stroke="#222" stroke-width="0.1">**</text>
<line x1="214.2" y1="660.8" x2="231.9" y2="660.8" stroke="#505050" stroke-width="1.35"/>
<text x="223.05" y="661.4" font-size="6.8" text-anchor="middle" fill="#222" stroke="#222" stroke-width="0.1">***</text>
<line x1="194.25" y1="698.9" x2="194.25" y2="707.7" stroke="#222" stroke-width="1.1"/>
<line x1="191.2" y1="698.9" x2="197.3" y2="698.9" stroke="#222" stroke-width="1.1"/>
<line x1="191.2" y1="707.7" x2="197.3" y2="707.7" stroke="#222" stroke-width="1.1"/>
<line x1="187.8" y1="703.1" x2="200.4" y2="703.1" stroke="#262626" stroke-width="1.4"/>
<circle cx="191.9" cy="696.5" r="1.75" fill="#a8142f"/>
<circle cx="196.1" cy="698" r="1.75" fill="#a8142f"/>
<circle cx="194.2" cy="713.1" r="1.75" fill="#a8142f"/>
<line x1="213" y1="675.4" x2="213" y2="678.5" stroke="#222" stroke-width="1.1"/>
<line x1="210" y1="675.4" x2="216" y2="675.4" stroke="#222" stroke-width="1.1"/>
<line x1="210" y1="678.5" x2="216" y2="678.5" stroke="#222" stroke-width="1.1"/>
<line x1="206.2" y1="676.5" x2="219.6" y2="676.5" stroke="#262626" stroke-width="1.4"/>
<rect x="206.75" y="672.95" width="3.3" height="3.3" fill="#2f5690"/>
<rect x="209.15" y="673.25" width="3.3" height="3.3" fill="#2f5690"/>
<rect x="211.85" y="672.95" width="3.3" height="3.3" fill="#2f5690"/>
<rect x="215.35" y="672.15" width="3.3" height="3.3" fill="#2f5690"/>
<rect x="211.35" y="680.65" width="3.3" height="3.3" fill="#2f5690"/>
<rect x="210.85" y="675.85" width="3.3" height="3.3" fill="#2f5690"/>
<line x1="232.5" y1="692" x2="232.5" y2="693.6" stroke="#222" stroke-width="1.1"/>
<line x1="229.5" y1="692" x2="235.5" y2="692" stroke="#222" stroke-width="1.1"/>
<line x1="229.5" y1="693.6" x2="235.5" y2="693.6" stroke="#222" stroke-width="1.1"/>
<line x1="226.2" y1="692.8" x2="238.5" y2="692.8" stroke="#262626" stroke-width="1.4"/>
<path d="M228.1 689.75L230.4 693.44L225.8 693.44Z" fill="#52a83c"/>
<path d="M232 690.15L234.3 693.84L229.7 693.84Z" fill="#52a83c"/>
<path d="M236.5 688.25L238.8 691.94L234.2 691.94Z" fill="#52a83c"/>
<path d="M229.9 694.85L232.2 698.54L227.6 698.54Z" fill="#52a83c"/>
<path d="M234 690.45L236.3 694.14L231.7 694.14Z" fill="#52a83c"/>
<line x1="251" y1="673.4" x2="251" y2="679.2" stroke="#222" stroke-width="1.1"/>
<line x1="248" y1="673.4" x2="254" y2="673.4" stroke="#222" stroke-width="1.1"/>
<line x1="248" y1="679.2" x2="254" y2="679.2" stroke="#222" stroke-width="1.1"/>
<line x1="244.2" y1="676.5" x2="257.6" y2="676.5" stroke="#262626" stroke-width="1.4"/>
<path d="M246.5 671.9L248.6 668.48L244.4 668.48Z" fill="#5c1f5e"/>
<path d="M253 670.1L255.1 666.68L250.9 666.68Z" fill="#5c1f5e"/>
<path d="M248.8 675.7L250.9 672.28L246.7 672.28Z" fill="#5c1f5e"/>
<path d="M252.5 676.4L254.6 672.98L250.4 672.98Z" fill="#5c1f5e"/>
<path d="M253.5 684.2L255.6 680.78L251.4 680.78Z" fill="#5c1f5e"/>
<path d="M248.8 688.1L250.9 684.68L246.7 684.68Z" fill="#5c1f5e"/>
<line x1="311.2" y1="647.5" x2="311.2" y2="723.75" stroke="#151515" stroke-width="1.35"/>
<line x1="310.55" y1="723.1" x2="394.2" y2="723.1" stroke="#151515" stroke-width="1.35"/>
<line x1="307.6" y1="650" x2="311.2" y2="650" stroke="#1a1a1a" stroke-width="1.15"/>
<text x="304.4" y="652.4" font-size="6.6" text-anchor="end" fill="#1a1a1a" stroke="#1a1a1a" stroke-width="0.16" textLength="3.49" lengthAdjust="spacingAndGlyphs">8</text>
<line x1="307.6" y1="668.75" x2="311.2" y2="668.75" stroke="#1a1a1a" stroke-width="1.15"/>
<text x="304.4" y="671.15" font-size="6.6" text-anchor="end" fill="#1a1a1a" stroke="#1a1a1a" stroke-width="0.16" textLength="3.49" lengthAdjust="spacingAndGlyphs">6</text>
<line x1="307.6" y1="687" x2="311.2" y2="687" stroke="#1a1a1a" stroke-width="1.15"/>
<text x="304.4" y="689.4" font-size="6.6" text-anchor="end" fill="#1a1a1a" stroke="#1a1a1a" stroke-width="0.16" textLength="3.49" lengthAdjust="spacingAndGlyphs">4</text>
<line x1="307.6" y1="705" x2="311.2" y2="705" stroke="#1a1a1a" stroke-width="1.15"/>
<text x="304.4" y="707.4" font-size="6.6" text-anchor="end" fill="#1a1a1a" stroke="#1a1a1a" stroke-width="0.16" textLength="3.49" lengthAdjust="spacingAndGlyphs">2</text>
<line x1="307.6" y1="723.1" x2="311.2" y2="723.1" stroke="#1a1a1a" stroke-width="1.15"/>
<text x="304.4" y="725.5" font-size="6.6" text-anchor="end" fill="#1a1a1a" stroke="#1a1a1a" stroke-width="0.16" textLength="3.49" lengthAdjust="spacingAndGlyphs">0</text>
<line x1="323.6" y1="723.1" x2="323.6" y2="726.7" stroke="#1a1a1a" stroke-width="1.15"/>
<line x1="342.6" y1="723.1" x2="342.6" y2="726.7" stroke="#1a1a1a" stroke-width="1.15"/>
<line x1="361.8" y1="723.1" x2="361.8" y2="726.7" stroke="#1a1a1a" stroke-width="1.15"/>
<line x1="380.8" y1="723.1" x2="380.8" y2="726.7" stroke="#1a1a1a" stroke-width="1.15"/>
<text x="350" y="640.5" font-size="8.63" text-anchor="middle" fill="#111" stroke="#111" stroke-width="0.3" textLength="13.55" lengthAdjust="spacingAndGlyphs">TFR</text>
<text x="282.8" y="685.6" font-size="9.89" text-anchor="middle" fill="#111" stroke="#111" stroke-width="0.28" transform="rotate(-90 282.8 685.6)" textLength="111.9" lengthAdjust="spacingAndGlyphs">% PD-1(hi) BCL6+ of FoxP3+</text>
<text x="294" y="684.6" font-size="9.89" text-anchor="middle" fill="#111" stroke="#111" stroke-width="0.28" transform="rotate(-90 294 684.6)" textLength="49.6" lengthAdjust="spacingAndGlyphs">TCRβ+ CD4+</text>
<text x="326.6" y="732.7" font-size="6.98" text-anchor="end" fill="#1a1a1a" stroke="#1a1a1a" stroke-width="0.1" transform="rotate(-45 326.6 732.7)" textLength="16.96" lengthAdjust="spacingAndGlyphs">Naive</text>
<text x="345.6" y="732.7" font-size="6.98" text-anchor="end" fill="#1a1a1a" stroke="#1a1a1a" stroke-width="0.1" transform="rotate(-45 345.6 732.7)" textLength="32.52" lengthAdjust="spacingAndGlyphs">WT + SRBC</text>
<text x="364.8" y="732.7" font-size="6.98" text-anchor="end" fill="#1a1a1a" stroke="#1a1a1a" stroke-width="0.1" transform="rotate(-45 364.8 732.7)" textLength="39.07" lengthAdjust="spacingAndGlyphs">R46Q + SRBC</text>
<text x="383.8" y="732.7" font-size="6.98" text-anchor="end" fill="#1a1a1a" stroke="#1a1a1a" stroke-width="0.1" transform="rotate(-45 383.8 732.7)" textLength="39.07" lengthAdjust="spacingAndGlyphs">R41Q + SRBC</text>
<line x1="321.9" y1="656.9" x2="339.9" y2="656.9" stroke="#505050" stroke-width="1.35"/>
<text x="330.9" y="657.5" font-size="6.8" text-anchor="middle" fill="#222" stroke="#222" stroke-width="0.1">*</text>
<line x1="343.5" y1="656.9" x2="361.5" y2="656.9" stroke="#505050" stroke-width="1.35"/>
<text x="352.5" y="657.5" font-size="6.8" text-anchor="middle" fill="#222" stroke="#222" stroke-width="0.1">***</text>
<line x1="323.65" y1="666.2" x2="323.65" y2="681.5" stroke="#222" stroke-width="1.1"/>
<line x1="320.8" y1="666.2" x2="326.5" y2="666.2" stroke="#222" stroke-width="1.1"/>
<line x1="320.8" y1="681.5" x2="326.5" y2="681.5" stroke="#222" stroke-width="1.1"/>
<line x1="317.3" y1="673.5" x2="330.1" y2="673.5" stroke="#262626" stroke-width="1.4"/>
<circle cx="323.5" cy="661.1" r="1.75" fill="#a8142f"/>
<circle cx="323.5" cy="673.4" r="1.75" fill="#a8142f"/>
<circle cx="323.5" cy="686.6" r="1.75" fill="#a8142f"/>
<line x1="342.75" y1="693.5" x2="342.75" y2="695.8" stroke="#222" stroke-width="1.1"/>
<line x1="340" y1="693.5" x2="345.5" y2="693.5" stroke="#222" stroke-width="1.1"/>
<line x1="340" y1="695.8" x2="345.5" y2="695.8" stroke="#222" stroke-width="1.1"/>
<line x1="336.5" y1="694.6" x2="348.5" y2="694.6" stroke="#262626" stroke-width="1.4"/>
<rect x="340.75" y="689.15" width="3.3" height="3.3" fill="#2f5690"/>
<rect x="337.15" y="692.95" width="3.3" height="3.3" fill="#2f5690"/>
<rect x="340.75" y="692.55" width="3.3" height="3.3" fill="#2f5690"/>
<rect x="344.85" y="693.75" width="3.3" height="3.3" fill="#2f5690"/>
<rect x="340.75" y="695.25" width="3.3" height="3.3" fill="#2f5690"/>
<rect x="343.35" y="691.85" width="3.3" height="3.3" fill="#2f5690"/>
<line x1="361.5" y1="703" x2="361.5" y2="704" stroke="#222" stroke-width="1.1"/>
<line x1="358.5" y1="703" x2="364.5" y2="703" stroke="#222" stroke-width="1.1"/>
<line x1="358.5" y1="704" x2="364.5" y2="704" stroke="#222" stroke-width="1.1"/>
<line x1="355.3" y1="703.5" x2="368.1" y2="703.5" stroke="#262626" stroke-width="1.4"/>
<path d="M356.8 699.45L359.1 703.14L354.5 703.14Z" fill="#52a83c"/>
<path d="M360.4 702.15L362.7 705.84L358.1 705.84Z" fill="#52a83c"/>
<path d="M363.5 701.45L365.8 705.14L361.2 705.14Z" fill="#52a83c"/>
<path d="M361.5 701.15L363.8 704.84L359.2 704.84Z" fill="#52a83c"/>
<line x1="380.5" y1="699" x2="380.5" y2="701" stroke="#222" stroke-width="1.1"/>
<line x1="377.5" y1="699" x2="383.5" y2="699" stroke="#222" stroke-width="1.1"/>
<line x1="377.5" y1="701" x2="383.5" y2="701" stroke="#222" stroke-width="1.1"/>
<line x1="374.2" y1="700" x2="387.3" y2="700" stroke="#262626" stroke-width="1.4"/>
<path d="M378.1 698.1L380.2 694.68L376 694.68Z" fill="#5c1f5e"/>
<path d="M382.7 696.8L384.8 693.38L380.6 693.38Z" fill="#5c1f5e"/>
<path d="M375.8 702.7L377.9 699.28L373.7 699.28Z" fill="#5c1f5e"/>
<path d="M380 701.4L382.1 697.98L377.9 697.98Z" fill="#5c1f5e"/>
<path d="M385.5 701.9L387.6 698.48L383.4 698.48Z" fill="#5c1f5e"/>
<path d="M380.8 710.7L382.9 707.28L378.7 707.28Z" fill="#5c1f5e"/>
<line x1="428.6" y1="647.8" x2="428.6" y2="723.75" stroke="#151515" stroke-width="1.35"/>
<line x1="427.95" y1="723.1" x2="512.3" y2="723.1" stroke="#151515" stroke-width="1.35"/>
<line x1="425" y1="649.8" x2="428.6" y2="649.8" stroke="#1a1a1a" stroke-width="1.15"/>
<text x="421.8" y="652.2" font-size="6.6" text-anchor="end" fill="#1a1a1a" stroke="#1a1a1a" stroke-width="0.16" textLength="3.49" lengthAdjust="spacingAndGlyphs">4</text>
<line x1="425" y1="668.75" x2="428.6" y2="668.75" stroke="#1a1a1a" stroke-width="1.15"/>
<text x="421.8" y="671.15" font-size="6.6" text-anchor="end" fill="#1a1a1a" stroke="#1a1a1a" stroke-width="0.16" textLength="3.49" lengthAdjust="spacingAndGlyphs">3</text>
<line x1="425" y1="687" x2="428.6" y2="687" stroke="#1a1a1a" stroke-width="1.15"/>
<text x="421.8" y="689.4" font-size="6.6" text-anchor="end" fill="#1a1a1a" stroke="#1a1a1a" stroke-width="0.16" textLength="3.49" lengthAdjust="spacingAndGlyphs">2</text>
<line x1="425" y1="705" x2="428.6" y2="705" stroke="#1a1a1a" stroke-width="1.15"/>
<text x="421.8" y="707.4" font-size="6.6" text-anchor="end" fill="#1a1a1a" stroke="#1a1a1a" stroke-width="0.16" textLength="3.49" lengthAdjust="spacingAndGlyphs">1</text>
<line x1="425" y1="723.1" x2="428.6" y2="723.1" stroke="#1a1a1a" stroke-width="1.15"/>
<text x="421.8" y="725.5" font-size="6.6" text-anchor="end" fill="#1a1a1a" stroke="#1a1a1a" stroke-width="0.16" textLength="3.49" lengthAdjust="spacingAndGlyphs">0</text>
<line x1="440.7" y1="723.1" x2="440.7" y2="726.7" stroke="#1a1a1a" stroke-width="1.15"/>
<line x1="460.4" y1="723.1" x2="460.4" y2="726.7" stroke="#1a1a1a" stroke-width="1.15"/>
<line x1="479.6" y1="723.1" x2="479.6" y2="726.7" stroke="#1a1a1a" stroke-width="1.15"/>
<line x1="498.8" y1="723.1" x2="498.8" y2="726.7" stroke="#1a1a1a" stroke-width="1.15"/>
<text x="470.7" y="640.6" font-size="8.63" text-anchor="middle" fill="#111" stroke="#111" stroke-width="0.3" textLength="15.74" lengthAdjust="spacingAndGlyphs">GCB</text>
<text x="412.7" y="685.6" font-size="9.89" text-anchor="middle" fill="#111" stroke="#111" stroke-width="0.28" transform="rotate(-90 412.7 685.6)" textLength="107.1" lengthAdjust="spacingAndGlyphs">%B220+ Fas+ GL7+ of total</text>
<text x="443.7" y="732.7" font-size="6.98" text-anchor="end" fill="#1a1a1a" stroke="#1a1a1a" stroke-width="0.1" transform="rotate(-45 443.7 732.7)" textLength="16.96" lengthAdjust="spacingAndGlyphs">Naive</text>
<text x="463.4" y="732.7" font-size="6.98" text-anchor="end" fill="#1a1a1a" stroke="#1a1a1a" stroke-width="0.1" transform="rotate(-45 463.4 732.7)" textLength="32.52" lengthAdjust="spacingAndGlyphs">WT + SRBC</text>
<text x="482.6" y="732.7" font-size="6.98" text-anchor="end" fill="#1a1a1a" stroke="#1a1a1a" stroke-width="0.1" transform="rotate(-45 482.6 732.7)" textLength="39.07" lengthAdjust="spacingAndGlyphs">R46Q + SRBC</text>
<text x="501.8" y="732.7" font-size="6.98" text-anchor="end" fill="#1a1a1a" stroke="#1a1a1a" stroke-width="0.1" transform="rotate(-45 501.8 732.7)" textLength="39.07" lengthAdjust="spacingAndGlyphs">R41Q + SRBC</text>
<line x1="440.2" y1="660.6" x2="458" y2="660.6" stroke="#505050" stroke-width="1.35"/>
<text x="449.1" y="661.2" font-size="6.8" text-anchor="middle" fill="#222" stroke="#222" stroke-width="0.1">****</text>
<line x1="461.1" y1="660.6" x2="479.6" y2="660.6" stroke="#505050" stroke-width="1.35"/>
<text x="470.35" y="658.6" font-size="6.01" text-anchor="middle" fill="#2a2a2a" textLength="17.19" lengthAdjust="spacingAndGlyphs">0.0534</text>
<line x1="440.75" y1="714" x2="440.75" y2="715.4" stroke="#222" stroke-width="1.1"/>
<line x1="438.5" y1="714" x2="443" y2="714" stroke="#222" stroke-width="1.1"/>
<line x1="438.5" y1="715.4" x2="443" y2="715.4" stroke="#222" stroke-width="1.1"/>
<line x1="435.4" y1="714.7" x2="447.4" y2="714.7" stroke="#262626" stroke-width="1.4"/>
<circle cx="437.8" cy="712.7" r="1.75" fill="#a8142f"/>
<circle cx="441.9" cy="715.9" r="1.75" fill="#a8142f"/>
<circle cx="445.5" cy="715.1" r="1.75" fill="#a8142f"/>
<circle cx="440" cy="714.5" r="1.75" fill="#a8142f"/>
<line x1="460.5" y1="680.5" x2="460.5" y2="684" stroke="#222" stroke-width="1.1"/>
<line x1="457.5" y1="680.5" x2="463.5" y2="680.5" stroke="#222" stroke-width="1.1"/>
<line x1="457.5" y1="684" x2="463.5" y2="684" stroke="#222" stroke-width="1.1"/>
<line x1="453.9" y1="682.2" x2="467.1" y2="682.2" stroke="#262626" stroke-width="1.4"/>
<rect x="456.35" y="675.05" width="3.3" height="3.3" fill="#2f5690"/>
<rect x="459.45" y="678.15" width="3.3" height="3.3" fill="#2f5690"/>
<rect x="461.85" y="679.85" width="3.3" height="3.3" fill="#2f5690"/>
<rect x="456.35" y="683.45" width="3.3" height="3.3" fill="#2f5690"/>
<rect x="461.85" y="683.45" width="3.3" height="3.3" fill="#2f5690"/>
<rect x="458.85" y="680.35" width="3.3" height="3.3" fill="#2f5690"/>
<line x1="479.5" y1="686.8" x2="479.5" y2="689.2" stroke="#222" stroke-width="1.1"/>
<line x1="476.5" y1="686.8" x2="482.5" y2="686.8" stroke="#222" stroke-width="1.1"/>
<line x1="476.5" y1="689.2" x2="482.5" y2="689.2" stroke="#222" stroke-width="1.1"/>
<line x1="473.1" y1="688" x2="485.9" y2="688" stroke="#262626" stroke-width="1.4"/>
<path d="M477.2 680.65L479.5 684.34L474.9 684.34Z" fill="#52a83c"/>
<path d="M474.3 684.95L476.6 688.64L472 688.64Z" fill="#52a83c"/>
<path d="M482.7 684.95L485 688.64L480.4 688.64Z" fill="#52a83c"/>
<path d="M479.1 689.75L481.4 693.44L476.8 693.44Z" fill="#52a83c"/>
<path d="M479.6 685.95L481.9 689.64L477.3 689.64Z" fill="#52a83c"/>
<line x1="499" y1="677.5" x2="499" y2="680.8" stroke="#222" stroke-width="1.1"/>
<line x1="496" y1="677.5" x2="502" y2="677.5" stroke="#222" stroke-width="1.1"/>
<line x1="496" y1="680.8" x2="502" y2="680.8" stroke="#222" stroke-width="1.1"/>
<line x1="492.4" y1="679.1" x2="505.1" y2="679.1" stroke="#262626" stroke-width="1.4"/>
<path d="M498.8 670.9L500.9 667.48L496.7 667.48Z" fill="#5c1f5e"/>
<path d="M495.5 679.3L497.6 675.88L493.4 675.88Z" fill="#5c1f5e"/>
<path d="M502 678.6L504.1 675.18L499.9 675.18Z" fill="#5c1f5e"/>
<path d="M497.2 683.4L499.3 679.98L495.1 679.98Z" fill="#5c1f5e"/>
<path d="M502.7 682.7L504.8 679.28L500.6 679.28Z" fill="#5c1f5e"/>
<path d="M498.8 685.8L500.9 682.38L496.7 682.38Z" fill="#5c1f5e"/>
<rect x="0" y="0" width="520" height="1" fill="#565656"/>
<rect x="0" y="1" width="520" height="1" fill="#8a8a8a"/>
<rect x="518" y="0" width="1" height="773" fill="#7a7a7a"/>
<rect x="519" y="0" width="1" height="773" fill="#565656"/>
<rect x="0" y="0" width="1" height="773" fill="#050505"/>
<rect x="1" y="2" width="1" height="770" fill="#7a7a7a"/>
<rect x="0" y="772" width="519" height="1" fill="#050505"/>
<rect x="0" y="0" width="1" height="1" fill="#8a8a8a"/>
<rect x="519" y="772" width="1" height="1" fill="#8a8a8a"/>
</svg>
</body></html>
